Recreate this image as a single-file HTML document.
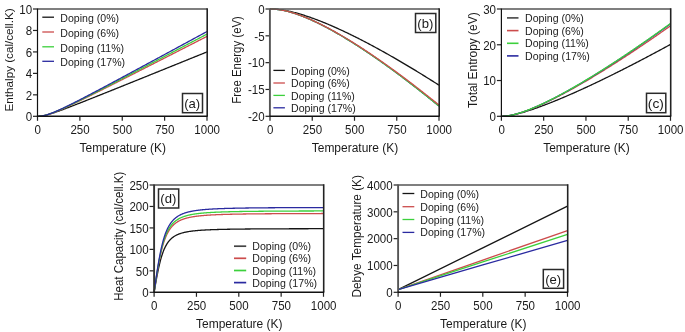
<!DOCTYPE html>
<html><head><meta charset="utf-8"><style>
html,body{margin:0;padding:0;background:#fff;}
body{width:685px;height:332px;overflow:hidden;}
svg{display:block;will-change:transform;}
</style></head><body>
<svg width="685" height="332" viewBox="0 0 685 332" font-family='"Liberation Sans", sans-serif' fill="#1a1a1a">
<rect width="685" height="332" fill="#fff"/>
<polyline points="37.5,116.3 38.35,116.29 39.2,116.25 40.04,116.18 40.89,116.09 41.74,115.98 42.59,115.85 43.43,115.69 44.28,115.52 45.13,115.33 45.98,115.13 46.82,114.92 47.67,114.69 48.52,114.45 49.37,114.2 50.21,113.95 51.06,113.68 51.91,113.41 52.76,113.14 53.6,112.86 54.45,112.57 55.3,112.28 56.14,111.99 56.99,111.69 57.84,111.39 58.69,111.09 59.53,110.78 60.38,110.47 61.23,110.16 62.08,109.85 62.92,109.53 63.77,109.22 64.62,108.9 65.47,108.58 66.31,108.26 67.16,107.94 68.01,107.62 68.86,107.29 69.7,106.97 70.55,106.64 71.4,106.32 72.25,105.99 73.09,105.66 73.94,105.33 74.79,105.01 75.64,104.68 76.48,104.35 77.33,104.01 78.18,103.68 79.03,103.35 79.88,103.02 80.72,102.69 81.57,102.35 82.42,102.02 83.27,101.69 84.11,101.35 84.96,101.02 85.81,100.68 86.66,100.35 87.5,100.01 88.35,99.68 89.2,99.34 90.05,99.01 90.89,98.67 91.74,98.33 92.59,98 93.44,97.66 94.28,97.32 95.13,96.98 95.98,96.65 96.83,96.31 97.67,95.97 98.52,95.63 99.37,95.3 100.22,94.96 101.06,94.62 101.91,94.28 102.76,93.94 103.61,93.6 104.45,93.26 105.3,92.92 106.15,92.59 107,92.25 107.84,91.91 108.69,91.57 109.54,91.23 110.39,90.89 111.23,90.55 112.08,90.21 112.93,89.87 113.78,89.53 114.62,89.19 115.47,88.85 116.32,88.51 117.17,88.17 118.01,87.83 118.86,87.49 119.71,87.15 120.56,86.81 121.4,86.47 122.25,86.13 123.1,85.79 123.94,85.44 124.79,85.1 125.64,84.76 126.49,84.42 127.33,84.08 128.18,83.74 129.03,83.4 129.88,83.06 130.72,82.72 131.57,82.38 132.42,82.03 133.27,81.69 134.12,81.35 134.96,81.01 135.81,80.67 136.66,80.33 137.5,79.99 138.35,79.65 139.2,79.3 140.05,78.96 140.89,78.62 141.74,78.28 142.59,77.94 143.44,77.6 144.28,77.25 145.13,76.91 145.98,76.57 146.83,76.23 147.68,75.89 148.52,75.55 149.37,75.2 150.22,74.86 151.06,74.52 151.91,74.18 152.76,73.84 153.61,73.49 154.45,73.15 155.3,72.81 156.15,72.47 157,72.13 157.84,71.78 158.69,71.44 159.54,71.1 160.39,70.76 161.24,70.42 162.08,70.07 162.93,69.73 163.78,69.39 164.62,69.05 165.47,68.7 166.32,68.36 167.17,68.02 168.01,67.68 168.86,67.34 169.71,66.99 170.56,66.65 171.41,66.31 172.25,65.97 173.1,65.62 173.95,65.28 174.79,64.94 175.64,64.6 176.49,64.25 177.34,63.91 178.19,63.57 179.03,63.23 179.88,62.88 180.73,62.54 181.57,62.2 182.42,61.86 183.27,61.51 184.12,61.17 184.97,60.83 185.81,60.49 186.66,60.14 187.51,59.8 188.35,59.46 189.2,59.12 190.05,58.77 190.9,58.43 191.75,58.09 192.59,57.75 193.44,57.4 194.29,57.06 195.13,56.72 195.98,56.38 196.83,56.03 197.68,55.69 198.53,55.35 199.37,55 200.22,54.66 201.07,54.32 201.91,53.98 202.76,53.63 203.61,53.29 204.46,52.95 205.31,52.61 206.15,52.26 207,51.92" fill="none" stroke="#151515" stroke-width="1.3" stroke-linejoin="round"/>
<polyline points="37.5,116.3 38.35,116.29 39.2,116.25 40.04,116.19 40.89,116.1 41.74,115.99 42.59,115.85 43.43,115.7 44.28,115.52 45.13,115.33 45.98,115.12 46.82,114.89 47.67,114.64 48.52,114.39 49.37,114.11 50.21,113.83 51.06,113.54 51.91,113.24 52.76,112.92 53.6,112.6 54.45,112.28 55.3,111.94 56.14,111.6 56.99,111.25 57.84,110.9 58.69,110.54 59.53,110.18 60.38,109.81 61.23,109.44 62.08,109.07 62.92,108.69 63.77,108.31 64.62,107.93 65.47,107.55 66.31,107.16 67.16,106.77 68.01,106.37 68.86,105.98 69.7,105.58 70.55,105.19 71.4,104.79 72.25,104.38 73.09,103.98 73.94,103.58 74.79,103.17 75.64,102.77 76.48,102.36 77.33,101.95 78.18,101.54 79.03,101.13 79.88,100.72 80.72,100.31 81.57,99.89 82.42,99.48 83.27,99.06 84.11,98.65 84.96,98.23 85.81,97.82 86.66,97.4 87.5,96.98 88.35,96.56 89.2,96.14 90.05,95.72 90.89,95.3 91.74,94.88 92.59,94.46 93.44,94.04 94.28,93.62 95.13,93.2 95.98,92.78 96.83,92.35 97.67,91.93 98.52,91.51 99.37,91.08 100.22,90.66 101.06,90.24 101.91,89.81 102.76,89.39 103.61,88.96 104.45,88.54 105.3,88.11 106.15,87.69 107,87.26 107.84,86.83 108.69,86.41 109.54,85.98 110.39,85.55 111.23,85.13 112.08,84.7 112.93,84.27 113.78,83.84 114.62,83.42 115.47,82.99 116.32,82.56 117.17,82.13 118.01,81.7 118.86,81.28 119.71,80.85 120.56,80.42 121.4,79.99 122.25,79.56 123.1,79.13 123.94,78.7 124.79,78.27 125.64,77.85 126.49,77.42 127.33,76.99 128.18,76.56 129.03,76.13 129.88,75.7 130.72,75.27 131.57,74.84 132.42,74.41 133.27,73.98 134.12,73.55 134.96,73.12 135.81,72.69 136.66,72.25 137.5,71.82 138.35,71.39 139.2,70.96 140.05,70.53 140.89,70.1 141.74,69.67 142.59,69.24 143.44,68.81 144.28,68.38 145.13,67.95 145.98,67.51 146.83,67.08 147.68,66.65 148.52,66.22 149.37,65.79 150.22,65.36 151.06,64.93 151.91,64.49 152.76,64.06 153.61,63.63 154.45,63.2 155.3,62.77 156.15,62.33 157,61.9 157.84,61.47 158.69,61.04 159.54,60.61 160.39,60.17 161.24,59.74 162.08,59.31 162.93,58.88 163.78,58.45 164.62,58.01 165.47,57.58 166.32,57.15 167.17,56.72 168.01,56.28 168.86,55.85 169.71,55.42 170.56,54.99 171.41,54.55 172.25,54.12 173.1,53.69 173.95,53.26 174.79,52.82 175.64,52.39 176.49,51.96 177.34,51.52 178.19,51.09 179.03,50.66 179.88,50.23 180.73,49.79 181.57,49.36 182.42,48.93 183.27,48.49 184.12,48.06 184.97,47.63 185.81,47.19 186.66,46.76 187.51,46.33 188.35,45.9 189.2,45.46 190.05,45.03 190.9,44.6 191.75,44.16 192.59,43.73 193.44,43.3 194.29,42.86 195.13,42.43 195.98,42 196.83,41.56 197.68,41.13 198.53,40.7 199.37,40.26 200.22,39.83 201.07,39.4 201.91,38.96 202.76,38.53 203.61,38.1 204.46,37.66 205.31,37.23 206.15,36.8 207,36.36" fill="none" stroke="#cc4c4c" stroke-width="1.3" stroke-linejoin="round"/>
<polyline points="37.5,116.3 38.35,116.29 39.2,116.25 40.04,116.18 40.89,116.09 41.74,115.98 42.59,115.84 43.43,115.68 44.28,115.5 45.13,115.3 45.98,115.08 46.82,114.85 47.67,114.6 48.52,114.33 49.37,114.05 50.21,113.76 51.06,113.46 51.91,113.15 52.76,112.83 53.6,112.5 54.45,112.16 55.3,111.82 56.14,111.47 56.99,111.11 57.84,110.75 58.69,110.38 59.53,110.01 60.38,109.63 61.23,109.25 62.08,108.87 62.92,108.48 63.77,108.09 64.62,107.69 65.47,107.3 66.31,106.9 67.16,106.5 68.01,106.09 68.86,105.69 69.7,105.28 70.55,104.87 71.4,104.46 72.25,104.05 73.09,103.63 73.94,103.22 74.79,102.8 75.64,102.38 76.48,101.97 77.33,101.55 78.18,101.12 79.03,100.7 79.88,100.28 80.72,99.86 81.57,99.43 82.42,99 83.27,98.58 84.11,98.15 84.96,97.72 85.81,97.3 86.66,96.87 87.5,96.44 88.35,96.01 89.2,95.58 90.05,95.14 90.89,94.71 91.74,94.28 92.59,93.85 93.44,93.42 94.28,92.98 95.13,92.55 95.98,92.11 96.83,91.68 97.67,91.24 98.52,90.81 99.37,90.37 100.22,89.94 101.06,89.5 101.91,89.06 102.76,88.63 103.61,88.19 104.45,87.75 105.3,87.32 106.15,86.88 107,86.44 107.84,86 108.69,85.56 109.54,85.13 110.39,84.69 111.23,84.25 112.08,83.81 112.93,83.37 113.78,82.93 114.62,82.49 115.47,82.05 116.32,81.61 117.17,81.17 118.01,80.73 118.86,80.29 119.71,79.85 120.56,79.41 121.4,78.97 122.25,78.53 123.1,78.09 123.94,77.64 124.79,77.2 125.64,76.76 126.49,76.32 127.33,75.88 128.18,75.44 129.03,74.99 129.88,74.55 130.72,74.11 131.57,73.67 132.42,73.23 133.27,72.78 134.12,72.34 134.96,71.9 135.81,71.46 136.66,71.01 137.5,70.57 138.35,70.13 139.2,69.68 140.05,69.24 140.89,68.8 141.74,68.36 142.59,67.91 143.44,67.47 144.28,67.03 145.13,66.58 145.98,66.14 146.83,65.7 147.68,65.25 148.52,64.81 149.37,64.36 150.22,63.92 151.06,63.48 151.91,63.03 152.76,62.59 153.61,62.15 154.45,61.7 155.3,61.26 156.15,60.81 157,60.37 157.84,59.92 158.69,59.48 159.54,59.04 160.39,58.59 161.24,58.15 162.08,57.7 162.93,57.26 163.78,56.81 164.62,56.37 165.47,55.93 166.32,55.48 167.17,55.04 168.01,54.59 168.86,54.15 169.71,53.7 170.56,53.26 171.41,52.81 172.25,52.37 173.1,51.92 173.95,51.48 174.79,51.03 175.64,50.59 176.49,50.14 177.34,49.7 178.19,49.25 179.03,48.81 179.88,48.36 180.73,47.92 181.57,47.47 182.42,47.03 183.27,46.58 184.12,46.14 184.97,45.69 185.81,45.25 186.66,44.8 187.51,44.36 188.35,43.91 189.2,43.47 190.05,43.02 190.9,42.57 191.75,42.13 192.59,41.68 193.44,41.24 194.29,40.79 195.13,40.35 195.98,39.9 196.83,39.46 197.68,39.01 198.53,38.57 199.37,38.12 200.22,37.67 201.07,37.23 201.91,36.78 202.76,36.34 203.61,35.89 204.46,35.45 205.31,35 206.15,34.55 207,34.11" fill="none" stroke="#3cd03c" stroke-width="1.3" stroke-linejoin="round"/>
<polyline points="37.5,116.3 38.35,116.29 39.2,116.25 40.04,116.18 40.89,116.09 41.74,115.97 42.59,115.83 43.43,115.66 44.28,115.47 45.13,115.27 45.98,115.04 46.82,114.8 47.67,114.54 48.52,114.27 49.37,113.98 50.21,113.68 51.06,113.37 51.91,113.05 52.76,112.72 53.6,112.38 54.45,112.03 55.3,111.68 56.14,111.32 56.99,110.95 57.84,110.57 58.69,110.19 59.53,109.81 60.38,109.42 61.23,109.03 62.08,108.63 62.92,108.23 63.77,107.83 64.62,107.43 65.47,107.02 66.31,106.6 67.16,106.19 68.01,105.77 68.86,105.36 69.7,104.94 70.55,104.51 71.4,104.09 72.25,103.67 73.09,103.24 73.94,102.81 74.79,102.38 75.64,101.95 76.48,101.52 77.33,101.08 78.18,100.65 79.03,100.21 79.88,99.78 80.72,99.34 81.57,98.9 82.42,98.46 83.27,98.02 84.11,97.58 84.96,97.14 85.81,96.7 86.66,96.26 87.5,95.81 88.35,95.37 89.2,94.93 90.05,94.48 90.89,94.04 91.74,93.59 92.59,93.14 93.44,92.7 94.28,92.25 95.13,91.8 95.98,91.36 96.83,90.91 97.67,90.46 98.52,90.01 99.37,89.56 100.22,89.11 101.06,88.66 101.91,88.21 102.76,87.76 103.61,87.31 104.45,86.86 105.3,86.41 106.15,85.96 107,85.51 107.84,85.05 108.69,84.6 109.54,84.15 110.39,83.7 111.23,83.24 112.08,82.79 112.93,82.34 113.78,81.88 114.62,81.43 115.47,80.98 116.32,80.52 117.17,80.07 118.01,79.62 118.86,79.16 119.71,78.71 120.56,78.25 121.4,77.8 122.25,77.34 123.1,76.89 123.94,76.43 124.79,75.98 125.64,75.52 126.49,75.07 127.33,74.61 128.18,74.16 129.03,73.7 129.88,73.24 130.72,72.79 131.57,72.33 132.42,71.88 133.27,71.42 134.12,70.96 134.96,70.51 135.81,70.05 136.66,69.59 137.5,69.14 138.35,68.68 139.2,68.22 140.05,67.77 140.89,67.31 141.74,66.85 142.59,66.4 143.44,65.94 144.28,65.48 145.13,65.02 145.98,64.57 146.83,64.11 147.68,63.65 148.52,63.19 149.37,62.74 150.22,62.28 151.06,61.82 151.91,61.36 152.76,60.91 153.61,60.45 154.45,59.99 155.3,59.53 156.15,59.07 157,58.62 157.84,58.16 158.69,57.7 159.54,57.24 160.39,56.78 161.24,56.33 162.08,55.87 162.93,55.41 163.78,54.95 164.62,54.49 165.47,54.03 166.32,53.58 167.17,53.12 168.01,52.66 168.86,52.2 169.71,51.74 170.56,51.28 171.41,50.82 172.25,50.36 173.1,49.91 173.95,49.45 174.79,48.99 175.64,48.53 176.49,48.07 177.34,47.61 178.19,47.15 179.03,46.69 179.88,46.23 180.73,45.78 181.57,45.32 182.42,44.86 183.27,44.4 184.12,43.94 184.97,43.48 185.81,43.02 186.66,42.56 187.51,42.1 188.35,41.64 189.2,41.18 190.05,40.72 190.9,40.26 191.75,39.81 192.59,39.35 193.44,38.89 194.29,38.43 195.13,37.97 195.98,37.51 196.83,37.05 197.68,36.59 198.53,36.13 199.37,35.67 200.22,35.21 201.07,34.75 201.91,34.29 202.76,33.83 203.61,33.37 204.46,32.91 205.31,32.45 206.15,31.99 207,31.53" fill="none" stroke="#2a2aa0" stroke-width="1.3" stroke-linejoin="round"/>
<line x1="33" y1="116.3" x2="37.5" y2="116.3" stroke="#222" stroke-width="1.2"/>
<text transform="translate(32.1,121.1) scale(0.94,1)" font-size="12.3" text-anchor="end">0</text>
<line x1="33" y1="94.84" x2="37.5" y2="94.84" stroke="#222" stroke-width="1.2"/>
<text transform="translate(32.1,99.64) scale(0.94,1)" font-size="12.3" text-anchor="end">2</text>
<line x1="33" y1="73.38" x2="37.5" y2="73.38" stroke="#222" stroke-width="1.2"/>
<text transform="translate(32.1,78.18) scale(0.94,1)" font-size="12.3" text-anchor="end">4</text>
<line x1="33" y1="51.92" x2="37.5" y2="51.92" stroke="#222" stroke-width="1.2"/>
<text transform="translate(32.1,56.72) scale(0.94,1)" font-size="12.3" text-anchor="end">6</text>
<line x1="33" y1="30.46" x2="37.5" y2="30.46" stroke="#222" stroke-width="1.2"/>
<text transform="translate(32.1,35.26) scale(0.94,1)" font-size="12.3" text-anchor="end">8</text>
<line x1="33" y1="9" x2="37.5" y2="9" stroke="#222" stroke-width="1.2"/>
<text transform="translate(32.1,13.8) scale(0.94,1)" font-size="12.3" text-anchor="end">10</text>
<line x1="37.5" y1="116.3" x2="37.5" y2="120.8" stroke="#222" stroke-width="1.2"/>
<text transform="translate(37.7,133.7) scale(0.94,1)" font-size="12.3" text-anchor="middle">0</text>
<line x1="79.88" y1="116.3" x2="79.88" y2="120.8" stroke="#222" stroke-width="1.2"/>
<text transform="translate(80.08,133.7) scale(0.94,1)" font-size="12.3" text-anchor="middle">250</text>
<line x1="122.25" y1="116.3" x2="122.25" y2="120.8" stroke="#222" stroke-width="1.2"/>
<text transform="translate(122.45,133.7) scale(0.94,1)" font-size="12.3" text-anchor="middle">500</text>
<line x1="164.62" y1="116.3" x2="164.62" y2="120.8" stroke="#222" stroke-width="1.2"/>
<text transform="translate(164.82,133.7) scale(0.94,1)" font-size="12.3" text-anchor="middle">750</text>
<line x1="207" y1="116.3" x2="207" y2="120.8" stroke="#222" stroke-width="1.2"/>
<text transform="translate(207.2,133.7) scale(0.94,1)" font-size="12.3" text-anchor="middle">1000</text>
<line x1="37.5" y1="9" x2="207" y2="9" stroke="#555" stroke-width="1.6"/>
<line x1="207.2" y1="8.2" x2="207.2" y2="116.3" stroke="#222" stroke-width="1.6"/>
<line x1="37.5" y1="8.5" x2="37.5" y2="116.9" stroke="#111" stroke-width="1.2"/>
<line x1="36.9" y1="116.3" x2="207.7" y2="116.3" stroke="#111" stroke-width="1.4"/>
<text x="122.75" y="151.9" font-size="12" text-anchor="middle" textLength="86.5" lengthAdjust="spacingAndGlyphs">Temperature (K)</text>
<text transform="translate(13.2,59.9) rotate(-90)" font-size="11.2" text-anchor="middle" textLength="103" lengthAdjust="spacingAndGlyphs">Enthalpy (cal/cell.K)</text>
<line x1="42.3" y1="17.2" x2="54" y2="17.2" stroke="#151515" stroke-width="1.3"/>
<text x="60.3" y="22" font-size="10.5" textLength="58.8" lengthAdjust="spacingAndGlyphs">Doping (0%)</text>
<line x1="42.3" y1="32" x2="54" y2="32" stroke="#cc4c4c" stroke-width="1.3"/>
<text x="60.3" y="36.8" font-size="10.5" textLength="58.8" lengthAdjust="spacingAndGlyphs">Doping (6%)</text>
<line x1="42.3" y1="46.8" x2="54" y2="46.8" stroke="#3cd03c" stroke-width="1.3"/>
<text x="60.3" y="51.6" font-size="10.5" textLength="63.8" lengthAdjust="spacingAndGlyphs">Doping (11%)</text>
<line x1="42.3" y1="61.3" x2="54" y2="61.3" stroke="#2a2aa0" stroke-width="1.3"/>
<text x="60.3" y="66.1" font-size="10.5" textLength="64.8" lengthAdjust="spacingAndGlyphs">Doping (17%)</text>
<rect x="182.5" y="93.5" width="20" height="19.2" fill="#fff" stroke="#2a2a2a" stroke-width="1.5"/>
<text x="192.2" y="107.7" font-size="12.8" text-anchor="middle" textLength="16" lengthAdjust="spacingAndGlyphs">(a)</text>
<polyline points="270,9 270.85,9 271.69,9.02 272.54,9.04 273.38,9.08 274.23,9.12 275.07,9.17 275.92,9.23 276.76,9.3 277.61,9.38 278.45,9.47 279.3,9.57 280.14,9.67 280.99,9.79 281.83,9.91 282.68,10.03 283.52,10.17 284.37,10.31 285.21,10.46 286.06,10.62 286.9,10.78 287.75,10.95 288.59,11.13 289.44,11.31 290.28,11.5 291.12,11.69 291.97,11.89 292.81,12.1 293.66,12.31 294.5,12.53 295.35,12.75 296.19,12.97 297.04,13.2 297.88,13.44 298.73,13.68 299.57,13.92 300.42,14.17 301.26,14.43 302.11,14.68 302.95,14.94 303.8,15.21 304.64,15.48 305.49,15.75 306.33,16.03 307.18,16.31 308.02,16.6 308.87,16.89 309.72,17.18 310.56,17.47 311.4,17.77 312.25,18.07 313.1,18.38 313.94,18.69 314.78,19 315.63,19.31 316.48,19.63 317.32,19.95 318.17,20.28 319.01,20.6 319.86,20.93 320.7,21.27 321.55,21.6 322.39,21.94 323.24,22.28 324.08,22.62 324.93,22.97 325.77,23.32 326.62,23.67 327.46,24.02 328.31,24.38 329.15,24.74 330,25.1 330.84,25.46 331.69,25.83 332.53,26.2 333.38,26.57 334.22,26.94 335.06,27.31 335.91,27.69 336.75,28.07 337.6,28.45 338.44,28.83 339.29,29.22 340.13,29.61 340.98,30 341.82,30.39 342.67,30.78 343.51,31.18 344.36,31.57 345.2,31.97 346.05,32.38 346.89,32.78 347.74,33.18 348.58,33.59 349.43,34 350.27,34.41 351.12,34.82 351.97,35.24 352.81,35.65 353.65,36.07 354.5,36.49 355.35,36.91 356.19,37.34 357.03,37.76 357.88,38.19 358.73,38.61 359.57,39.04 360.42,39.47 361.26,39.91 362.11,40.34 362.95,40.78 363.8,41.22 364.64,41.65 365.49,42.1 366.33,42.54 367.18,42.98 368.02,43.43 368.87,43.87 369.71,44.32 370.56,44.77 371.4,45.22 372.25,45.67 373.09,46.13 373.94,46.58 374.78,47.04 375.62,47.5 376.47,47.96 377.31,48.42 378.16,48.88 379,49.34 379.85,49.81 380.69,50.27 381.54,50.74 382.38,51.21 383.23,51.68 384.07,52.15 384.92,52.62 385.76,53.1 386.61,53.57 387.45,54.05 388.3,54.53 389.14,55.01 389.99,55.49 390.83,55.97 391.68,56.45 392.52,56.93 393.37,57.42 394.22,57.91 395.06,58.39 395.9,58.88 396.75,59.37 397.6,59.86 398.44,60.35 399.28,60.85 400.13,61.34 400.98,61.84 401.82,62.33 402.66,62.83 403.51,63.33 404.36,63.83 405.2,64.33 406.04,64.83 406.89,65.33 407.74,65.84 408.58,66.34 409.43,66.85 410.27,67.36 411.12,67.86 411.96,68.37 412.81,68.88 413.65,69.39 414.5,69.91 415.34,70.42 416.19,70.93 417.03,71.45 417.88,71.97 418.72,72.48 419.56,73 420.41,73.52 421.25,74.04 422.1,74.56 422.94,75.09 423.79,75.61 424.63,76.13 425.48,76.66 426.32,77.18 427.17,77.71 428.01,78.24 428.86,78.77 429.71,79.3 430.55,79.83 431.39,80.36 432.24,80.89 433.09,81.42 433.93,81.96 434.77,82.49 435.62,83.03 436.47,83.57 437.31,84.1 438.15,84.64 439,85.18" fill="none" stroke="#151515" stroke-width="1.3" stroke-linejoin="round"/>
<polyline points="270,9 270.85,9.01 271.69,9.02 272.54,9.05 273.38,9.1 274.23,9.15 275.07,9.21 275.92,9.29 276.76,9.38 277.61,9.48 278.45,9.58 279.3,9.7 280.14,9.83 280.99,9.97 281.83,10.12 282.68,10.28 283.52,10.45 284.37,10.63 285.21,10.82 286.06,11.01 286.9,11.22 287.75,11.43 288.59,11.65 289.44,11.88 290.28,12.12 291.12,12.36 291.97,12.61 292.81,12.87 293.66,13.13 294.5,13.4 295.35,13.68 296.19,13.96 297.04,14.25 297.88,14.55 298.73,14.85 299.57,15.16 300.42,15.47 301.26,15.79 302.11,16.12 302.95,16.45 303.8,16.78 304.64,17.13 305.49,17.47 306.33,17.82 307.18,18.18 308.02,18.54 308.87,18.9 309.72,19.27 310.56,19.64 311.4,20.02 312.25,20.41 313.1,20.79 313.94,21.18 314.78,21.58 315.63,21.98 316.48,22.38 317.32,22.79 318.17,23.2 319.01,23.61 319.86,24.03 320.7,24.45 321.55,24.88 322.39,25.31 323.24,25.74 324.08,26.17 324.93,26.61 325.77,27.06 326.62,27.5 327.46,27.95 328.31,28.4 329.15,28.86 330,29.32 330.84,29.78 331.69,30.25 332.53,30.71 333.38,31.19 334.22,31.66 335.06,32.14 335.91,32.62 336.75,33.1 337.6,33.58 338.44,34.07 339.29,34.56 340.13,35.06 340.98,35.55 341.82,36.05 342.67,36.55 343.51,37.06 344.36,37.56 345.2,38.07 346.05,38.58 346.89,39.1 347.74,39.61 348.58,40.13 349.43,40.65 350.27,41.18 351.12,41.7 351.97,42.23 352.81,42.76 353.65,43.29 354.5,43.83 355.35,44.37 356.19,44.9 357.03,45.45 357.88,45.99 358.73,46.54 359.57,47.08 360.42,47.63 361.26,48.19 362.11,48.74 362.95,49.3 363.8,49.86 364.64,50.42 365.49,50.98 366.33,51.54 367.18,52.11 368.02,52.68 368.87,53.25 369.71,53.82 370.56,54.39 371.4,54.97 372.25,55.55 373.09,56.13 373.94,56.71 374.78,57.29 375.62,57.88 376.47,58.46 377.31,59.05 378.16,59.64 379,60.24 379.85,60.83 380.69,61.43 381.54,62.02 382.38,62.62 383.23,63.22 384.07,63.83 384.92,64.43 385.76,65.04 386.61,65.64 387.45,66.25 388.3,66.86 389.14,67.48 389.99,68.09 390.83,68.7 391.68,69.32 392.52,69.94 393.37,70.56 394.22,71.18 395.06,71.81 395.9,72.43 396.75,73.06 397.6,73.68 398.44,74.31 399.28,74.94 400.13,75.58 400.98,76.21 401.82,76.85 402.66,77.48 403.51,78.12 404.36,78.76 405.2,79.4 406.04,80.04 406.89,80.69 407.74,81.33 408.58,81.98 409.43,82.63 410.27,83.27 411.12,83.93 411.96,84.58 412.81,85.23 413.65,85.88 414.5,86.54 415.34,87.2 416.19,87.86 417.03,88.52 417.88,89.18 418.72,89.84 419.56,90.5 420.41,91.17 421.25,91.83 422.1,92.5 422.94,93.17 423.79,93.84 424.63,94.51 425.48,95.18 426.32,95.86 427.17,96.53 428.01,97.21 428.86,97.89 429.71,98.57 430.55,99.24 431.39,99.93 432.24,100.61 433.09,101.29 433.93,101.98 434.77,102.66 435.62,103.35 436.47,104.04 437.31,104.72 438.15,105.42 439,106.11" fill="none" stroke="#2a2aa0" stroke-width="1.3" stroke-linejoin="round"/>
<polyline points="270,9 270.85,9.01 271.69,9.02 272.54,9.05 273.38,9.1 274.23,9.15 275.07,9.21 275.92,9.29 276.76,9.38 277.61,9.48 278.45,9.58 279.3,9.7 280.14,9.83 280.99,9.97 281.83,10.12 282.68,10.28 283.52,10.45 284.37,10.63 285.21,10.82 286.06,11.01 286.9,11.22 287.75,11.43 288.59,11.65 289.44,11.88 290.28,12.12 291.12,12.36 291.97,12.61 292.81,12.87 293.66,13.13 294.5,13.4 295.35,13.68 296.19,13.96 297.04,14.25 297.88,14.55 298.73,14.85 299.57,15.16 300.42,15.47 301.26,15.79 302.11,16.12 302.95,16.45 303.8,16.78 304.64,17.13 305.49,17.47 306.33,17.82 307.18,18.18 308.02,18.54 308.87,18.9 309.72,19.27 310.56,19.64 311.4,20.02 312.25,20.41 313.1,20.79 313.94,21.18 314.78,21.58 315.63,21.98 316.48,22.38 317.32,22.79 318.17,23.2 319.01,23.61 319.86,24.03 320.7,24.45 321.55,24.88 322.39,25.31 323.24,25.74 324.08,26.17 324.93,26.61 325.77,27.06 326.62,27.5 327.46,27.95 328.31,28.4 329.15,28.86 330,29.32 330.84,29.78 331.69,30.25 332.53,30.71 333.38,31.19 334.22,31.66 335.06,32.14 335.91,32.62 336.75,33.1 337.6,33.58 338.44,34.07 339.29,34.56 340.13,35.06 340.98,35.55 341.82,36.05 342.67,36.55 343.51,37.06 344.36,37.56 345.2,38.07 346.05,38.58 346.89,39.1 347.74,39.61 348.58,40.13 349.43,40.65 350.27,41.18 351.12,41.7 351.97,42.23 352.81,42.76 353.65,43.29 354.5,43.83 355.35,44.37 356.19,44.9 357.03,45.45 357.88,45.99 358.73,46.54 359.57,47.08 360.42,47.63 361.26,48.19 362.11,48.74 362.95,49.3 363.8,49.86 364.64,50.42 365.49,50.98 366.33,51.54 367.18,52.11 368.02,52.68 368.87,53.25 369.71,53.82 370.56,54.39 371.4,54.97 372.25,55.55 373.09,56.13 373.94,56.71 374.78,57.29 375.62,57.88 376.47,58.46 377.31,59.05 378.16,59.64 379,60.24 379.85,60.83 380.69,61.43 381.54,62.02 382.38,62.62 383.23,63.22 384.07,63.83 384.92,64.43 385.76,65.04 386.61,65.64 387.45,66.25 388.3,66.86 389.14,67.48 389.99,68.09 390.83,68.7 391.68,69.32 392.52,69.94 393.37,70.56 394.22,71.18 395.06,71.81 395.9,72.43 396.75,73.06 397.6,73.68 398.44,74.31 399.28,74.94 400.13,75.58 400.98,76.21 401.82,76.85 402.66,77.48 403.51,78.12 404.36,78.76 405.2,79.4 406.04,80.04 406.89,80.69 407.74,81.33 408.58,81.98 409.43,82.63 410.27,83.27 411.12,83.93 411.96,84.58 412.81,85.23 413.65,85.88 414.5,86.54 415.34,87.2 416.19,87.86 417.03,88.52 417.88,89.18 418.72,89.84 419.56,90.5 420.41,91.17 421.25,91.83 422.1,92.5 422.94,93.17 423.79,93.84 424.63,94.51 425.48,95.18 426.32,95.86 427.17,96.53 428.01,97.21 428.86,97.89 429.71,98.57 430.55,99.24 431.39,99.93 432.24,100.61 433.09,101.29 433.93,101.98 434.77,102.66 435.62,103.35 436.47,104.04 437.31,104.72 438.15,105.42 439,106.11" fill="none" stroke="#3cd03c" stroke-width="1.3" stroke-linejoin="round"/>
<polyline points="270,9 270.85,9.01 271.69,9.02 272.54,9.05 273.38,9.09 274.23,9.15 275.07,9.21 275.92,9.29 276.76,9.37 277.61,9.47 278.45,9.58 279.3,9.7 280.14,9.82 280.99,9.96 281.83,10.11 282.68,10.27 283.52,10.44 284.37,10.61 285.21,10.8 286.06,10.99 286.9,11.19 287.75,11.4 288.59,11.62 289.44,11.85 290.28,12.08 291.12,12.32 291.97,12.57 292.81,12.82 293.66,13.09 294.5,13.35 295.35,13.63 296.19,13.91 297.04,14.2 297.88,14.49 298.73,14.79 299.57,15.09 300.42,15.4 301.26,15.72 302.11,16.04 302.95,16.37 303.8,16.7 304.64,17.04 305.49,17.38 306.33,17.72 307.18,18.08 308.02,18.43 308.87,18.79 309.72,19.16 310.56,19.53 311.4,19.9 312.25,20.28 313.1,20.66 313.94,21.05 314.78,21.44 315.63,21.83 316.48,22.23 317.32,22.63 318.17,23.04 319.01,23.45 319.86,23.86 320.7,24.28 321.55,24.7 322.39,25.13 323.24,25.55 324.08,25.99 324.93,26.42 325.77,26.86 326.62,27.3 327.46,27.74 328.31,28.19 329.15,28.64 330,29.09 330.84,29.55 331.69,30.01 332.53,30.47 333.38,30.94 334.22,31.41 335.06,31.88 335.91,32.35 336.75,32.83 337.6,33.31 338.44,33.79 339.29,34.28 340.13,34.77 340.98,35.26 341.82,35.75 342.67,36.25 343.51,36.75 344.36,37.25 345.2,37.75 346.05,38.26 346.89,38.76 347.74,39.27 348.58,39.79 349.43,40.3 350.27,40.82 351.12,41.34 351.97,41.86 352.81,42.39 353.65,42.91 354.5,43.44 355.35,43.97 356.19,44.51 357.03,45.04 357.88,45.58 358.73,46.12 359.57,46.66 360.42,47.21 361.26,47.75 362.11,48.3 362.95,48.85 363.8,49.4 364.64,49.96 365.49,50.51 366.33,51.07 367.18,51.63 368.02,52.2 368.87,52.76 369.71,53.33 370.56,53.89 371.4,54.46 372.25,55.03 373.09,55.61 373.94,56.18 374.78,56.76 375.62,57.34 376.47,57.92 377.31,58.5 378.16,59.08 379,59.67 379.85,60.26 380.69,60.85 381.54,61.44 382.38,62.03 383.23,62.62 384.07,63.22 384.92,63.82 385.76,64.42 386.61,65.02 387.45,65.62 388.3,66.22 389.14,66.83 389.99,67.44 390.83,68.04 391.68,68.66 392.52,69.27 393.37,69.88 394.22,70.5 395.06,71.11 395.9,71.73 396.75,72.35 397.6,72.97 398.44,73.59 399.28,74.22 400.13,74.84 400.98,75.47 401.82,76.1 402.66,76.73 403.51,77.36 404.36,77.99 405.2,78.62 406.04,79.26 406.89,79.89 407.74,80.53 408.58,81.17 409.43,81.81 410.27,82.45 411.12,83.1 411.96,83.74 412.81,84.39 413.65,85.04 414.5,85.68 415.34,86.33 416.19,86.99 417.03,87.64 417.88,88.29 418.72,88.95 419.56,89.6 420.41,90.26 421.25,90.92 422.1,91.58 422.94,92.24 423.79,92.9 424.63,93.57 425.48,94.23 426.32,94.9 427.17,95.57 428.01,96.23 428.86,96.9 429.71,97.58 430.55,98.25 431.39,98.92 432.24,99.6 433.09,100.27 433.93,100.95 434.77,101.63 435.62,102.31 436.47,102.99 437.31,103.67 438.15,104.35 439,105.03" fill="none" stroke="#cc4c4c" stroke-width="1.3" stroke-linejoin="round"/>
<line x1="265.5" y1="9" x2="269.9" y2="9" stroke="#222" stroke-width="1.2"/>
<text transform="translate(264.6,13.8) scale(0.94,1)" font-size="12.3" text-anchor="end">0</text>
<line x1="265.5" y1="35.83" x2="269.9" y2="35.83" stroke="#222" stroke-width="1.2"/>
<text transform="translate(264.6,40.62) scale(0.94,1)" font-size="12.3" text-anchor="end">-5</text>
<line x1="265.5" y1="62.65" x2="269.9" y2="62.65" stroke="#222" stroke-width="1.2"/>
<text transform="translate(264.6,67.45) scale(0.94,1)" font-size="12.3" text-anchor="end">-10</text>
<line x1="265.5" y1="89.47" x2="269.9" y2="89.47" stroke="#222" stroke-width="1.2"/>
<text transform="translate(264.6,94.27) scale(0.94,1)" font-size="12.3" text-anchor="end">-15</text>
<line x1="265.5" y1="116.3" x2="269.9" y2="116.3" stroke="#222" stroke-width="1.2"/>
<text transform="translate(264.6,121.1) scale(0.94,1)" font-size="12.3" text-anchor="end">-20</text>
<line x1="270" y1="116.3" x2="270" y2="120.8" stroke="#222" stroke-width="1.2"/>
<text transform="translate(270.2,133.7) scale(0.94,1)" font-size="12.3" text-anchor="middle">0</text>
<line x1="312.25" y1="116.3" x2="312.25" y2="120.8" stroke="#222" stroke-width="1.2"/>
<text transform="translate(312.45,133.7) scale(0.94,1)" font-size="12.3" text-anchor="middle">250</text>
<line x1="354.5" y1="116.3" x2="354.5" y2="120.8" stroke="#222" stroke-width="1.2"/>
<text transform="translate(354.7,133.7) scale(0.94,1)" font-size="12.3" text-anchor="middle">500</text>
<line x1="396.75" y1="116.3" x2="396.75" y2="120.8" stroke="#222" stroke-width="1.2"/>
<text transform="translate(396.95,133.7) scale(0.94,1)" font-size="12.3" text-anchor="middle">750</text>
<line x1="439" y1="116.3" x2="439" y2="120.8" stroke="#222" stroke-width="1.2"/>
<text transform="translate(439.2,133.7) scale(0.94,1)" font-size="12.3" text-anchor="middle">1000</text>
<line x1="270" y1="9" x2="439" y2="9" stroke="#555" stroke-width="1.6"/>
<line x1="439.2" y1="8.2" x2="439.2" y2="116.3" stroke="#222" stroke-width="1.6"/>
<line x1="269.9" y1="8.5" x2="269.9" y2="116.9" stroke="#555" stroke-width="1.9"/>
<line x1="269.4" y1="116.3" x2="439.7" y2="116.3" stroke="#111" stroke-width="1.4"/>
<text x="355" y="151.9" font-size="12" text-anchor="middle" textLength="86.5" lengthAdjust="spacingAndGlyphs">Temperature (K)</text>
<text transform="translate(241.1,59.9) rotate(-90)" font-size="12.3" text-anchor="middle" textLength="87.6" lengthAdjust="spacingAndGlyphs">Free Energy (eV)</text>
<line x1="273.4" y1="70.4" x2="284.9" y2="70.4" stroke="#151515" stroke-width="1.3"/>
<text x="291" y="74.8" font-size="10.5" textLength="58.8" lengthAdjust="spacingAndGlyphs">Doping (0%)</text>
<line x1="273.4" y1="83" x2="284.9" y2="83" stroke="#cc4c4c" stroke-width="1.3"/>
<text x="291" y="87.4" font-size="10.5" textLength="58.8" lengthAdjust="spacingAndGlyphs">Doping (6%)</text>
<line x1="273.4" y1="95.4" x2="284.9" y2="95.4" stroke="#3cd03c" stroke-width="1.3"/>
<text x="291" y="99.8" font-size="10.5" textLength="63.8" lengthAdjust="spacingAndGlyphs">Doping (11%)</text>
<line x1="273.4" y1="107.8" x2="284.9" y2="107.8" stroke="#2a2aa0" stroke-width="1.3"/>
<text x="291" y="112.2" font-size="10.5" textLength="64.8" lengthAdjust="spacingAndGlyphs">Doping (17%)</text>
<rect x="415.5" y="13.5" width="20.3" height="19" fill="#fff" stroke="#2a2a2a" stroke-width="1.5"/>
<text x="425.35" y="27.6" font-size="12.8" text-anchor="middle" textLength="16" lengthAdjust="spacingAndGlyphs">(b)</text>
<polyline points="501.4,116.3 502.25,116.29 503.09,116.27 503.94,116.22 504.78,116.17 505.63,116.09 506.47,116 507.32,115.9 508.16,115.79 509.01,115.66 509.85,115.52 510.7,115.37 511.55,115.22 512.39,115.05 513.24,114.87 514.08,114.69 514.93,114.5 515.77,114.3 516.62,114.1 517.46,113.89 518.31,113.67 519.16,113.45 520,113.22 520.85,112.99 521.69,112.75 522.54,112.51 523.38,112.26 524.23,112.01 525.07,111.76 525.92,111.5 526.76,111.24 527.61,110.97 528.46,110.7 529.3,110.43 530.15,110.15 530.99,109.87 531.84,109.59 532.68,109.31 533.53,109.02 534.37,108.73 535.22,108.43 536.07,108.14 536.91,107.84 537.76,107.54 538.6,107.23 539.45,106.93 540.29,106.62 541.14,106.31 541.98,106 542.83,105.68 543.67,105.36 544.52,105.04 545.37,104.72 546.21,104.4 547.06,104.07 547.9,103.75 548.75,103.42 549.59,103.09 550.44,102.75 551.28,102.42 552.13,102.08 552.98,101.74 553.82,101.4 554.67,101.06 555.51,100.72 556.36,100.37 557.2,100.03 558.05,99.68 558.89,99.33 559.74,98.98 560.59,98.62 561.43,98.27 562.28,97.91 563.12,97.56 563.97,97.2 564.81,96.84 565.66,96.48 566.5,96.11 567.35,95.75 568.19,95.38 569.04,95.02 569.89,94.65 570.73,94.28 571.58,93.91 572.42,93.54 573.27,93.16 574.11,92.79 574.96,92.42 575.8,92.04 576.65,91.66 577.5,91.28 578.34,90.9 579.19,90.52 580.03,90.14 580.88,89.75 581.72,89.37 582.57,88.98 583.41,88.6 584.26,88.21 585.1,87.82 585.95,87.43 586.8,87.04 587.64,86.65 588.49,86.25 589.33,85.86 590.18,85.47 591.02,85.07 591.87,84.67 592.71,84.27 593.56,83.88 594.4,83.48 595.25,83.08 596.1,82.67 596.94,82.27 597.79,81.87 598.63,81.46 599.48,81.06 600.32,80.65 601.17,80.24 602.01,79.84 602.86,79.43 603.71,79.02 604.55,78.61 605.4,78.2 606.24,77.78 607.09,77.37 607.93,76.96 608.78,76.54 609.62,76.13 610.47,75.71 611.32,75.29 612.16,74.88 613.01,74.46 613.85,74.04 614.7,73.62 615.54,73.2 616.39,72.77 617.23,72.35 618.08,71.93 618.92,71.51 619.77,71.08 620.62,70.65 621.46,70.23 622.31,69.8 623.15,69.37 624,68.95 624.84,68.52 625.69,68.09 626.53,67.66 627.38,67.23 628.23,66.79 629.07,66.36 629.92,65.93 630.76,65.49 631.61,65.06 632.45,64.62 633.3,64.19 634.14,63.75 634.99,63.31 635.83,62.88 636.68,62.44 637.53,62 638.37,61.56 639.22,61.12 640.06,60.68 640.91,60.24 641.75,59.79 642.6,59.35 643.44,58.91 644.29,58.46 645.13,58.02 645.98,57.57 646.83,57.13 647.67,56.68 648.52,56.23 649.36,55.79 650.21,55.34 651.05,54.89 651.9,54.44 652.74,53.99 653.59,53.54 654.44,53.09 655.28,52.63 656.13,52.18 656.97,51.73 657.82,51.28 658.66,50.82 659.51,50.37 660.35,49.91 661.2,49.46 662.05,49 662.89,48.54 663.74,48.09 664.58,47.63 665.43,47.17 666.27,46.71 667.12,46.25 667.96,45.79 668.81,45.33 669.65,44.87 670.5,44.41" fill="none" stroke="#151515" stroke-width="1.3" stroke-linejoin="round"/>
<polyline points="501.4,116.3 502.25,116.29 503.09,116.27 503.94,116.23 504.78,116.17 505.63,116.1 506.47,116.01 507.32,115.91 508.16,115.8 509.01,115.67 509.85,115.53 510.7,115.37 511.55,115.21 512.39,115.03 513.24,114.84 514.08,114.64 514.93,114.43 515.77,114.21 516.62,113.99 517.46,113.75 518.31,113.51 519.16,113.26 520,113 520.85,112.73 521.69,112.46 522.54,112.18 523.38,111.89 524.23,111.6 525.07,111.3 525.92,110.99 526.76,110.68 527.61,110.37 528.46,110.05 529.3,109.72 530.15,109.4 530.99,109.06 531.84,108.72 532.68,108.38 533.53,108.03 534.37,107.68 535.22,107.33 536.07,106.97 536.91,106.6 537.76,106.24 538.6,105.87 539.45,105.49 540.29,105.11 541.14,104.73 541.98,104.35 542.83,103.96 543.67,103.57 544.52,103.18 545.37,102.78 546.21,102.38 547.06,101.98 547.9,101.58 548.75,101.17 549.59,100.76 550.44,100.35 551.28,99.93 552.13,99.51 552.98,99.09 553.82,98.67 554.67,98.24 555.51,97.82 556.36,97.39 557.2,96.95 558.05,96.52 558.89,96.08 559.74,95.64 560.59,95.2 561.43,94.76 562.28,94.31 563.12,93.86 563.97,93.41 564.81,92.96 565.66,92.51 566.5,92.05 567.35,91.59 568.19,91.13 569.04,90.67 569.89,90.21 570.73,89.74 571.58,89.27 572.42,88.81 573.27,88.33 574.11,87.86 574.96,87.39 575.8,86.91 576.65,86.43 577.5,85.96 578.34,85.47 579.19,84.99 580.03,84.51 580.88,84.02 581.72,83.53 582.57,83.05 583.41,82.55 584.26,82.06 585.1,81.57 585.95,81.07 586.8,80.58 587.64,80.08 588.49,79.58 589.33,79.08 590.18,78.58 591.02,78.07 591.87,77.57 592.71,77.06 593.56,76.55 594.4,76.05 595.25,75.53 596.1,75.02 596.94,74.51 597.79,74 598.63,73.48 599.48,72.96 600.32,72.44 601.17,71.92 602.01,71.4 602.86,70.88 603.71,70.36 604.55,69.83 605.4,69.31 606.24,68.78 607.09,68.25 607.93,67.72 608.78,67.19 609.62,66.66 610.47,66.13 611.32,65.6 612.16,65.06 613.01,64.52 613.85,63.99 614.7,63.45 615.54,62.91 616.39,62.37 617.23,61.83 618.08,61.28 618.92,60.74 619.77,60.2 620.62,59.65 621.46,59.1 622.31,58.55 623.15,58.01 624,57.46 624.84,56.9 625.69,56.35 626.53,55.8 627.38,55.25 628.23,54.69 629.07,54.13 629.92,53.58 630.76,53.02 631.61,52.46 632.45,51.9 633.3,51.34 634.14,50.78 634.99,50.22 635.83,49.65 636.68,49.09 637.53,48.52 638.37,47.96 639.22,47.39 640.06,46.82 640.91,46.25 641.75,45.68 642.6,45.11 643.44,44.54 644.29,43.97 645.13,43.39 645.98,42.82 646.83,42.24 647.67,41.67 648.52,41.09 649.36,40.51 650.21,39.93 651.05,39.36 651.9,38.77 652.74,38.19 653.59,37.61 654.44,37.03 655.28,36.45 656.13,35.86 656.97,35.28 657.82,34.69 658.66,34.1 659.51,33.52 660.35,32.93 661.2,32.34 662.05,31.75 662.89,31.16 663.74,30.57 664.58,29.98 665.43,29.38 666.27,28.79 667.12,28.2 667.96,27.6 668.81,27 669.65,26.41 670.5,25.81" fill="none" stroke="#cc4c4c" stroke-width="1.3" stroke-linejoin="round"/>
<polyline points="501.4,116.3 502.25,116.29 503.09,116.27 503.94,116.23 504.78,116.17 505.63,116.1 506.47,116.01 507.32,115.9 508.16,115.79 509.01,115.65 509.85,115.51 510.7,115.35 511.55,115.18 512.39,115 513.24,114.81 514.08,114.61 514.93,114.39 515.77,114.17 516.62,113.94 517.46,113.7 518.31,113.45 519.16,113.19 520,112.92 520.85,112.65 521.69,112.37 522.54,112.09 523.38,111.79 524.23,111.49 525.07,111.19 525.92,110.88 526.76,110.56 527.61,110.24 528.46,109.91 529.3,109.58 530.15,109.25 530.99,108.9 531.84,108.56 532.68,108.21 533.53,107.85 534.37,107.49 535.22,107.13 536.07,106.76 536.91,106.39 537.76,106.02 538.6,105.64 539.45,105.26 540.29,104.87 541.14,104.48 541.98,104.09 542.83,103.7 543.67,103.3 544.52,102.89 545.37,102.49 546.21,102.08 547.06,101.67 547.9,101.26 548.75,100.84 549.59,100.42 550.44,100 551.28,99.58 552.13,99.15 552.98,98.72 553.82,98.29 554.67,97.85 555.51,97.41 556.36,96.97 557.2,96.53 558.05,96.09 558.89,95.64 559.74,95.19 560.59,94.74 561.43,94.29 562.28,93.83 563.12,93.37 563.97,92.91 564.81,92.45 565.66,91.99 566.5,91.52 567.35,91.06 568.19,90.59 569.04,90.11 569.89,89.64 570.73,89.16 571.58,88.69 572.42,88.21 573.27,87.73 574.11,87.24 574.96,86.76 575.8,86.27 576.65,85.79 577.5,85.3 578.34,84.8 579.19,84.31 580.03,83.82 580.88,83.32 581.72,82.82 582.57,82.32 583.41,81.82 584.26,81.32 585.1,80.81 585.95,80.31 586.8,79.8 587.64,79.29 588.49,78.78 589.33,78.27 590.18,77.76 591.02,77.24 591.87,76.73 592.71,76.21 593.56,75.69 594.4,75.17 595.25,74.65 596.1,74.13 596.94,73.6 597.79,73.08 598.63,72.55 599.48,72.02 600.32,71.49 601.17,70.96 602.01,70.43 602.86,69.89 603.71,69.36 604.55,68.82 605.4,68.29 606.24,67.75 607.09,67.21 607.93,66.67 608.78,66.13 609.62,65.58 610.47,65.04 611.32,64.49 612.16,63.95 613.01,63.4 613.85,62.85 614.7,62.3 615.54,61.75 616.39,61.2 617.23,60.64 618.08,60.09 618.92,59.53 619.77,58.98 620.62,58.42 621.46,57.86 622.31,57.3 623.15,56.74 624,56.18 624.84,55.61 625.69,55.05 626.53,54.48 627.38,53.92 628.23,53.35 629.07,52.78 629.92,52.21 630.76,51.64 631.61,51.07 632.45,50.5 633.3,49.93 634.14,49.35 634.99,48.78 635.83,48.2 636.68,47.63 637.53,47.05 638.37,46.47 639.22,45.89 640.06,45.31 640.91,44.73 641.75,44.15 642.6,43.56 643.44,42.98 644.29,42.39 645.13,41.81 645.98,41.22 646.83,40.63 647.67,40.05 648.52,39.46 649.36,38.87 650.21,38.27 651.05,37.68 651.9,37.09 652.74,36.5 653.59,35.9 654.44,35.31 655.28,34.71 656.13,34.11 656.97,33.52 657.82,32.92 658.66,32.32 659.51,31.72 660.35,31.12 661.2,30.51 662.05,29.91 662.89,29.31 663.74,28.7 664.58,28.1 665.43,27.49 666.27,26.89 667.12,26.28 667.96,25.67 668.81,25.06 669.65,24.45 670.5,23.84" fill="none" stroke="#2a2aa0" stroke-width="1.3" stroke-linejoin="round"/>
<polyline points="501.4,116.3 502.25,116.29 503.09,116.27 503.94,116.23 504.78,116.17 505.63,116.09 506.47,116.01 507.32,115.9 508.16,115.78 509.01,115.65 509.85,115.51 510.7,115.35 511.55,115.18 512.39,115 513.24,114.8 514.08,114.6 514.93,114.38 515.77,114.16 516.62,113.93 517.46,113.69 518.31,113.44 519.16,113.18 520,112.91 520.85,112.64 521.69,112.36 522.54,112.07 523.38,111.78 524.23,111.48 525.07,111.17 525.92,110.86 526.76,110.54 527.61,110.22 528.46,109.89 529.3,109.56 530.15,109.22 530.99,108.88 531.84,108.53 532.68,108.18 533.53,107.82 534.37,107.46 535.22,107.09 536.07,106.73 536.91,106.35 537.76,105.98 538.6,105.6 539.45,105.21 540.29,104.83 541.14,104.44 541.98,104.04 542.83,103.65 543.67,103.25 544.52,102.84 545.37,102.44 546.21,102.03 547.06,101.61 547.9,101.2 548.75,100.78 549.59,100.36 550.44,99.94 551.28,99.51 552.13,99.08 552.98,98.65 553.82,98.22 554.67,97.78 555.51,97.34 556.36,96.9 557.2,96.46 558.05,96.01 558.89,95.56 559.74,95.11 560.59,94.66 561.43,94.2 562.28,93.74 563.12,93.29 563.97,92.82 564.81,92.36 565.66,91.89 566.5,91.43 567.35,90.96 568.19,90.49 569.04,90.01 569.89,89.54 570.73,89.06 571.58,88.58 572.42,88.1 573.27,87.62 574.11,87.13 574.96,86.65 575.8,86.16 576.65,85.67 577.5,85.18 578.34,84.68 579.19,84.19 580.03,83.69 580.88,83.19 581.72,82.69 582.57,82.19 583.41,81.69 584.26,81.18 585.1,80.68 585.95,80.17 586.8,79.66 587.64,79.15 588.49,78.64 589.33,78.12 590.18,77.61 591.02,77.09 591.87,76.57 592.71,76.05 593.56,75.53 594.4,75.01 595.25,74.49 596.1,73.96 596.94,73.44 597.79,72.91 598.63,72.38 599.48,71.85 600.32,71.32 601.17,70.78 602.01,70.25 602.86,69.71 603.71,69.18 604.55,68.64 605.4,68.1 606.24,67.56 607.09,67.02 607.93,66.48 608.78,65.93 609.62,65.39 610.47,64.84 611.32,64.29 612.16,63.74 613.01,63.19 613.85,62.64 614.7,62.09 615.54,61.54 616.39,60.98 617.23,60.43 618.08,59.87 618.92,59.31 619.77,58.75 620.62,58.19 621.46,57.63 622.31,57.07 623.15,56.51 624,55.94 624.84,55.38 625.69,54.81 626.53,54.25 627.38,53.68 628.23,53.11 629.07,52.54 629.92,51.97 630.76,51.39 631.61,50.82 632.45,50.25 633.3,49.67 634.14,49.09 634.99,48.52 635.83,47.94 636.68,47.36 637.53,46.78 638.37,46.2 639.22,45.62 640.06,45.04 640.91,44.45 641.75,43.87 642.6,43.28 643.44,42.7 644.29,42.11 645.13,41.52 645.98,40.93 646.83,40.34 647.67,39.75 648.52,39.16 649.36,38.57 650.21,37.97 651.05,37.38 651.9,36.78 652.74,36.19 653.59,35.59 654.44,34.99 655.28,34.39 656.13,33.8 656.97,33.2 657.82,32.59 658.66,31.99 659.51,31.39 660.35,30.79 661.2,30.18 662.05,29.58 662.89,28.97 663.74,28.37 664.58,27.76 665.43,27.15 666.27,26.54 667.12,25.93 667.96,25.32 668.81,24.71 669.65,24.1 670.5,23.49" fill="none" stroke="#3cd03c" stroke-width="1.3" stroke-linejoin="round"/>
<line x1="496.9" y1="116.3" x2="501.4" y2="116.3" stroke="#222" stroke-width="1.2"/>
<text transform="translate(496,121.1) scale(0.94,1)" font-size="12.3" text-anchor="end">0</text>
<line x1="496.9" y1="80.53" x2="501.4" y2="80.53" stroke="#222" stroke-width="1.2"/>
<text transform="translate(496,85.33) scale(0.94,1)" font-size="12.3" text-anchor="end">10</text>
<line x1="496.9" y1="44.77" x2="501.4" y2="44.77" stroke="#222" stroke-width="1.2"/>
<text transform="translate(496,49.57) scale(0.94,1)" font-size="12.3" text-anchor="end">20</text>
<line x1="496.9" y1="9" x2="501.4" y2="9" stroke="#222" stroke-width="1.2"/>
<text transform="translate(496,13.8) scale(0.94,1)" font-size="12.3" text-anchor="end">30</text>
<line x1="501.4" y1="116.3" x2="501.4" y2="120.8" stroke="#222" stroke-width="1.2"/>
<text transform="translate(501.6,133.7) scale(0.94,1)" font-size="12.3" text-anchor="middle">0</text>
<line x1="543.67" y1="116.3" x2="543.67" y2="120.8" stroke="#222" stroke-width="1.2"/>
<text transform="translate(543.88,133.7) scale(0.94,1)" font-size="12.3" text-anchor="middle">250</text>
<line x1="585.95" y1="116.3" x2="585.95" y2="120.8" stroke="#222" stroke-width="1.2"/>
<text transform="translate(586.15,133.7) scale(0.94,1)" font-size="12.3" text-anchor="middle">500</text>
<line x1="628.23" y1="116.3" x2="628.23" y2="120.8" stroke="#222" stroke-width="1.2"/>
<text transform="translate(628.43,133.7) scale(0.94,1)" font-size="12.3" text-anchor="middle">750</text>
<line x1="670.5" y1="116.3" x2="670.5" y2="120.8" stroke="#222" stroke-width="1.2"/>
<text transform="translate(670.7,133.7) scale(0.94,1)" font-size="12.3" text-anchor="middle">1000</text>
<line x1="501.4" y1="9" x2="670.5" y2="9" stroke="#555" stroke-width="1.6"/>
<line x1="670.7" y1="8.2" x2="670.7" y2="116.3" stroke="#222" stroke-width="1.6"/>
<line x1="501.4" y1="8.5" x2="501.4" y2="116.9" stroke="#111" stroke-width="1.2"/>
<line x1="500.8" y1="116.3" x2="671.2" y2="116.3" stroke="#111" stroke-width="1.4"/>
<text x="586.45" y="151.9" font-size="12" text-anchor="middle" textLength="86.5" lengthAdjust="spacingAndGlyphs">Temperature (K)</text>
<text transform="translate(476.9,60.15) rotate(-90)" font-size="12.3" text-anchor="middle" textLength="95.7" lengthAdjust="spacingAndGlyphs">Total Entropy (eV)</text>
<line x1="507" y1="17.9" x2="518.5" y2="17.9" stroke="#444" stroke-width="1.6"/>
<text x="525.1" y="21.9" font-size="10.5" textLength="58.8" lengthAdjust="spacingAndGlyphs">Doping (0%)</text>
<line x1="507" y1="30.6" x2="518.5" y2="30.6" stroke="#cc4c4c" stroke-width="1.6"/>
<text x="525.1" y="34.6" font-size="10.5" textLength="58.8" lengthAdjust="spacingAndGlyphs">Doping (6%)</text>
<line x1="507" y1="43.3" x2="518.5" y2="43.3" stroke="#3cd03c" stroke-width="1.6"/>
<text x="525.1" y="47.3" font-size="10.5" textLength="63.8" lengthAdjust="spacingAndGlyphs">Doping (11%)</text>
<line x1="507" y1="55.9" x2="518.5" y2="55.9" stroke="#2a2aa0" stroke-width="1.6"/>
<text x="525.1" y="59.9" font-size="10.5" textLength="64.8" lengthAdjust="spacingAndGlyphs">Doping (17%)</text>
<rect x="646.5" y="93.3" width="19.3" height="19.4" fill="#fff" stroke="#2a2a2a" stroke-width="1.5"/>
<text x="655.85" y="107.6" font-size="12.8" text-anchor="middle" textLength="16" lengthAdjust="spacingAndGlyphs">(c)</text>
<polyline points="154.1,292.3 154.52,289.85 154.95,287.41 155.37,284.99 155.79,282.61 156.22,280.26 156.64,277.97 157.06,275.73 157.49,273.56 157.91,271.45 158.34,269.42 158.76,267.47 159.18,265.59 159.61,263.8 160.03,262.08 160.45,260.45 160.88,258.9 161.3,257.42 161.72,256.02 162.15,254.69 162.57,253.44 162.99,252.25 163.42,251.13 163.84,250.07 164.26,249.07 164.69,248.12 165.11,247.23 165.53,246.39 165.96,245.59 166.38,244.84 166.81,244.14 167.23,243.47 167.65,242.83 168.08,242.24 168.5,241.67 168.92,241.14 169.35,240.63 169.77,240.15 170.19,239.7 170.62,239.27 171.04,238.86 171.46,238.47 171.89,238.11 172.31,237.76 172.73,237.43 173.16,237.11 173.58,236.81 174,236.53 174.43,236.26 174.85,236 175.28,235.75 175.7,235.52 176.12,235.29 176.55,235.08 176.97,234.87 177.39,234.68 177.82,234.49 178.24,234.31 178.66,234.14 179.09,233.98 179.51,233.82 179.93,233.67 180.36,233.52 180.78,233.38 181.2,233.25 181.63,233.12 182.05,233 182.47,232.88 182.9,232.77 183.32,232.66 183.75,232.55 184.17,232.45 184.59,232.35 185.02,232.26 185.44,232.17 185.86,232.08 186.29,232 186.71,231.91 187.13,231.83 187.56,231.76 187.98,231.68 188.4,231.61 188.83,231.54 189.25,231.48 189.67,231.41 190.1,231.35 190.52,231.29 190.94,231.23 191.37,231.18 191.79,231.12 192.22,231.07 192.64,231.02 193.06,230.97 193.49,230.92 193.91,230.87 194.33,230.82 194.76,230.78 195.18,230.74 195.6,230.7 196.03,230.65 196.45,230.61 196.87,230.58 197.3,230.54 197.72,230.5 198.14,230.47 198.57,230.43 198.99,230.4 199.41,230.37 199.84,230.33 200.26,230.3 200.69,230.27 201.11,230.24 201.53,230.21 201.96,230.19 202.38,230.16 202.8,230.13 203.23,230.11 203.65,230.08 204.07,230.06 204.5,230.03 204.92,230.01 205.34,229.99 205.77,229.96 206.19,229.94 206.61,229.92 207.04,229.9 207.46,229.88 207.88,229.86 208.31,229.84 208.73,229.82 209.16,229.8 209.58,229.78 210,229.77 210.43,229.75 210.85,229.73 211.27,229.71 211.7,229.7 212.12,229.68 212.54,229.67 212.97,229.65 213.39,229.64 213.81,229.62 214.24,229.61 214.66,229.59 215.08,229.58 215.51,229.56 215.93,229.55 216.35,229.54 216.78,229.53 217.2,229.51 217.62,229.5 218.05,229.49 218.47,229.48 218.9,229.46 219.32,229.45 219.74,229.44 220.17,229.43 220.59,229.42 221.01,229.41 221.44,229.4 221.86,229.39 222.28,229.38 222.71,229.37 223.13,229.36 223.55,229.35 223.98,229.34 224.4,229.33 224.82,229.32 225.25,229.31 225.67,229.3 226.09,229.3 226.52,229.29 226.94,229.28 227.37,229.27 227.79,229.26 228.21,229.26 228.64,229.25 229.06,229.24 229.48,229.23 229.91,229.23 230.33,229.22 230.75,229.21 231.18,229.2 231.6,229.2 232.02,229.19 232.45,229.18 232.87,229.18 233.29,229.17 233.72,229.16 234.14,229.16 234.56,229.15 234.99,229.15 235.41,229.14 235.84,229.13 236.26,229.13 236.68,229.12 237.11,229.12 237.53,229.11 237.95,229.11 238.38,229.1 238.8,229.1 239.22,229.09 239.65,229.09 240.07,229.08 240.49,229.08 240.92,229.07 241.34,229.07 241.76,229.06 242.19,229.06 242.61,229.05 243.03,229.05 243.46,229.04 243.88,229.04 244.31,229.03 244.73,229.03 245.15,229.02 245.58,229.02 246,229.02 246.42,229.01 246.85,229.01 247.27,229 247.69,229 248.12,229 248.54,228.99 248.96,228.99 249.39,228.99 249.81,228.98 250.23,228.98 250.66,228.97 251.08,228.97 251.5,228.97 251.93,228.96 252.35,228.96 252.78,228.96 253.2,228.95 253.62,228.95 254.05,228.95 254.47,228.94 254.89,228.94 255.32,228.94 255.74,228.93 256.16,228.93 256.59,228.93 257.01,228.93 257.43,228.92 257.86,228.92 258.28,228.92 258.7,228.91 259.13,228.91 259.55,228.91 259.98,228.91 260.4,228.9 260.82,228.9 261.25,228.9 261.67,228.9 262.09,228.89 262.52,228.89 262.94,228.89 263.36,228.88 263.79,228.88 264.21,228.88 264.63,228.88 265.06,228.88 265.48,228.87 265.9,228.87 266.33,228.87 266.75,228.87 267.17,228.86 267.6,228.86 268.02,228.86 268.44,228.86 268.87,228.86 269.29,228.85 269.72,228.85 270.14,228.85 270.56,228.85 270.99,228.84 271.41,228.84 271.83,228.84 272.26,228.84 272.68,228.84 273.1,228.83 273.53,228.83 273.95,228.83 274.37,228.83 274.8,228.83 275.22,228.83 275.64,228.82 276.07,228.82 276.49,228.82 276.91,228.82 277.34,228.82 277.76,228.81 278.19,228.81 278.61,228.81 279.03,228.81 279.46,228.81 279.88,228.81 280.3,228.81 280.73,228.8 281.15,228.8 281.57,228.8 282,228.8 282.42,228.8 282.84,228.8 283.27,228.79 283.69,228.79 284.11,228.79 284.54,228.79 284.96,228.79 285.38,228.79 285.81,228.79 286.23,228.78 286.66,228.78 287.08,228.78 287.5,228.78 287.93,228.78 288.35,228.78 288.77,228.78 289.2,228.77 289.62,228.77 290.04,228.77 290.47,228.77 290.89,228.77 291.31,228.77 291.74,228.77 292.16,228.77 292.58,228.76 293.01,228.76 293.43,228.76 293.86,228.76 294.28,228.76 294.7,228.76 295.13,228.76 295.55,228.76 295.97,228.75 296.4,228.75 296.82,228.75 297.24,228.75 297.67,228.75 298.09,228.75 298.51,228.75 298.94,228.75 299.36,228.75 299.78,228.75 300.21,228.74 300.63,228.74 301.05,228.74 301.48,228.74 301.9,228.74 302.32,228.74 302.75,228.74 303.17,228.74 303.6,228.74 304.02,228.74 304.44,228.73 304.87,228.73 305.29,228.73 305.71,228.73 306.14,228.73 306.56,228.73 306.98,228.73 307.41,228.73 307.83,228.73 308.25,228.73 308.68,228.72 309.1,228.72 309.52,228.72 309.95,228.72 310.37,228.72 310.79,228.72 311.22,228.72 311.64,228.72 312.07,228.72 312.49,228.72 312.91,228.72 313.34,228.72 313.76,228.71 314.18,228.71 314.61,228.71 315.03,228.71 315.45,228.71 315.88,228.71 316.3,228.71 316.72,228.71 317.15,228.71 317.57,228.71 317.99,228.71 318.42,228.71 318.84,228.71 319.26,228.7 319.69,228.7 320.11,228.7 320.54,228.7 320.96,228.7 321.38,228.7 321.81,228.7 322.23,228.7 322.65,228.7 323.08,228.7 323.5,228.7" fill="none" stroke="#151515" stroke-width="1.3" stroke-linejoin="round"/>
<polyline points="154.1,292.3 154.52,289.48 154.95,286.67 155.37,283.89 155.79,281.13 156.22,278.42 156.64,275.75 157.06,273.15 157.49,270.6 157.91,268.13 158.34,265.74 158.76,263.42 159.18,261.19 159.61,259.04 160.03,256.98 160.45,255.01 160.88,253.12 161.3,251.31 161.72,249.59 162.15,247.96 162.57,246.4 162.99,244.92 163.42,243.51 163.84,242.17 164.26,240.91 164.69,239.7 165.11,238.56 165.53,237.48 165.96,236.46 166.38,235.49 166.81,234.57 167.23,233.69 167.65,232.87 168.08,232.08 168.5,231.34 168.92,230.63 169.35,229.96 169.77,229.33 170.19,228.72 170.62,228.15 171.04,227.6 171.46,227.08 171.89,226.59 172.31,226.12 172.73,225.67 173.16,225.25 173.58,224.84 174,224.45 174.43,224.08 174.85,223.73 175.28,223.4 175.7,223.07 176.12,222.77 176.55,222.47 176.97,222.19 177.39,221.92 177.82,221.66 178.24,221.42 178.66,221.18 179.09,220.95 179.51,220.74 179.93,220.53 180.36,220.33 180.78,220.13 181.2,219.95 181.63,219.77 182.05,219.6 182.47,219.43 182.9,219.28 183.32,219.12 183.75,218.98 184.17,218.83 184.59,218.7 185.02,218.57 185.44,218.44 185.86,218.32 186.29,218.2 186.71,218.08 187.13,217.97 187.56,217.86 187.98,217.76 188.4,217.66 188.83,217.56 189.25,217.47 189.67,217.38 190.1,217.29 190.52,217.21 190.94,217.12 191.37,217.04 191.79,216.97 192.22,216.89 192.64,216.82 193.06,216.75 193.49,216.68 193.91,216.61 194.33,216.55 194.76,216.49 195.18,216.43 195.6,216.37 196.03,216.31 196.45,216.25 196.87,216.2 197.3,216.14 197.72,216.09 198.14,216.04 198.57,215.99 198.99,215.95 199.41,215.9 199.84,215.85 200.26,215.81 200.69,215.77 201.11,215.73 201.53,215.69 201.96,215.65 202.38,215.61 202.8,215.57 203.23,215.53 203.65,215.5 204.07,215.46 204.5,215.43 204.92,215.39 205.34,215.36 205.77,215.33 206.19,215.3 206.61,215.27 207.04,215.24 207.46,215.21 207.88,215.18 208.31,215.15 208.73,215.12 209.16,215.1 209.58,215.07 210,215.05 210.43,215.02 210.85,215 211.27,214.97 211.7,214.95 212.12,214.93 212.54,214.9 212.97,214.88 213.39,214.86 213.81,214.84 214.24,214.82 214.66,214.8 215.08,214.78 215.51,214.76 215.93,214.74 216.35,214.72 216.78,214.7 217.2,214.69 217.62,214.67 218.05,214.65 218.47,214.63 218.9,214.62 219.32,214.6 219.74,214.59 220.17,214.57 220.59,214.55 221.01,214.54 221.44,214.52 221.86,214.51 222.28,214.5 222.71,214.48 223.13,214.47 223.55,214.45 223.98,214.44 224.4,214.43 224.82,214.41 225.25,214.4 225.67,214.39 226.09,214.38 226.52,214.37 226.94,214.35 227.37,214.34 227.79,214.33 228.21,214.32 228.64,214.31 229.06,214.3 229.48,214.29 229.91,214.28 230.33,214.27 230.75,214.26 231.18,214.25 231.6,214.24 232.02,214.23 232.45,214.22 232.87,214.21 233.29,214.2 233.72,214.19 234.14,214.18 234.56,214.17 234.99,214.16 235.41,214.15 235.84,214.15 236.26,214.14 236.68,214.13 237.11,214.12 237.53,214.11 237.95,214.11 238.38,214.1 238.8,214.09 239.22,214.08 239.65,214.08 240.07,214.07 240.49,214.06 240.92,214.05 241.34,214.05 241.76,214.04 242.19,214.03 242.61,214.03 243.03,214.02 243.46,214.01 243.88,214.01 244.31,214 244.73,213.99 245.15,213.99 245.58,213.98 246,213.98 246.42,213.97 246.85,213.96 247.27,213.96 247.69,213.95 248.12,213.95 248.54,213.94 248.96,213.94 249.39,213.93 249.81,213.93 250.23,213.92 250.66,213.92 251.08,213.91 251.5,213.91 251.93,213.9 252.35,213.9 252.78,213.89 253.2,213.89 253.62,213.88 254.05,213.88 254.47,213.87 254.89,213.87 255.32,213.86 255.74,213.86 256.16,213.85 256.59,213.85 257.01,213.85 257.43,213.84 257.86,213.84 258.28,213.83 258.7,213.83 259.13,213.83 259.55,213.82 259.98,213.82 260.4,213.81 260.82,213.81 261.25,213.81 261.67,213.8 262.09,213.8 262.52,213.8 262.94,213.79 263.36,213.79 263.79,213.78 264.21,213.78 264.63,213.78 265.06,213.77 265.48,213.77 265.9,213.77 266.33,213.76 266.75,213.76 267.17,213.76 267.6,213.75 268.02,213.75 268.44,213.75 268.87,213.75 269.29,213.74 269.72,213.74 270.14,213.74 270.56,213.73 270.99,213.73 271.41,213.73 271.83,213.72 272.26,213.72 272.68,213.72 273.1,213.72 273.53,213.71 273.95,213.71 274.37,213.71 274.8,213.71 275.22,213.7 275.64,213.7 276.07,213.7 276.49,213.7 276.91,213.69 277.34,213.69 277.76,213.69 278.19,213.69 278.61,213.68 279.03,213.68 279.46,213.68 279.88,213.68 280.3,213.67 280.73,213.67 281.15,213.67 281.57,213.67 282,213.66 282.42,213.66 282.84,213.66 283.27,213.66 283.69,213.66 284.11,213.65 284.54,213.65 284.96,213.65 285.38,213.65 285.81,213.65 286.23,213.64 286.66,213.64 287.08,213.64 287.5,213.64 287.93,213.64 288.35,213.63 288.77,213.63 289.2,213.63 289.62,213.63 290.04,213.63 290.47,213.62 290.89,213.62 291.31,213.62 291.74,213.62 292.16,213.62 292.58,213.62 293.01,213.61 293.43,213.61 293.86,213.61 294.28,213.61 294.7,213.61 295.13,213.6 295.55,213.6 295.97,213.6 296.4,213.6 296.82,213.6 297.24,213.6 297.67,213.6 298.09,213.59 298.51,213.59 298.94,213.59 299.36,213.59 299.78,213.59 300.21,213.59 300.63,213.58 301.05,213.58 301.48,213.58 301.9,213.58 302.32,213.58 302.75,213.58 303.17,213.58 303.6,213.57 304.02,213.57 304.44,213.57 304.87,213.57 305.29,213.57 305.71,213.57 306.14,213.57 306.56,213.56 306.98,213.56 307.41,213.56 307.83,213.56 308.25,213.56 308.68,213.56 309.1,213.56 309.52,213.56 309.95,213.55 310.37,213.55 310.79,213.55 311.22,213.55 311.64,213.55 312.07,213.55 312.49,213.55 312.91,213.55 313.34,213.55 313.76,213.54 314.18,213.54 314.61,213.54 315.03,213.54 315.45,213.54 315.88,213.54 316.3,213.54 316.72,213.54 317.15,213.54 317.57,213.53 317.99,213.53 318.42,213.53 318.84,213.53 319.26,213.53 319.69,213.53 320.11,213.53 320.54,213.53 320.96,213.53 321.38,213.52 321.81,213.52 322.23,213.52 322.65,213.52 323.08,213.52 323.5,213.52" fill="none" stroke="#cc4c4c" stroke-width="1.3" stroke-linejoin="round"/>
<polyline points="154.1,292.3 154.52,289.39 154.95,286.49 155.37,283.61 155.79,280.77 156.22,277.96 156.64,275.21 157.06,272.52 157.49,269.9 157.91,267.35 158.34,264.87 158.76,262.48 159.18,260.18 159.61,257.96 160.03,255.83 160.45,253.79 160.88,251.84 161.3,249.98 161.72,248.2 162.15,246.51 162.57,244.9 162.99,243.37 163.42,241.92 163.84,240.54 164.26,239.23 164.69,237.99 165.11,236.81 165.53,235.69 165.96,234.64 166.38,233.63 166.81,232.68 167.23,231.78 167.65,230.93 168.08,230.12 168.5,229.35 168.92,228.62 169.35,227.93 169.77,227.27 170.19,226.65 170.62,226.06 171.04,225.49 171.46,224.96 171.89,224.45 172.31,223.96 172.73,223.5 173.16,223.06 173.58,222.64 174,222.24 174.43,221.86 174.85,221.5 175.28,221.15 175.7,220.82 176.12,220.5 176.55,220.2 176.97,219.91 177.39,219.63 177.82,219.36 178.24,219.11 178.66,218.86 179.09,218.63 179.51,218.4 179.93,218.19 180.36,217.98 180.78,217.78 181.2,217.59 181.63,217.41 182.05,217.23 182.47,217.06 182.9,216.89 183.32,216.74 183.75,216.58 184.17,216.44 184.59,216.3 185.02,216.16 185.44,216.03 185.86,215.9 186.29,215.78 186.71,215.66 187.13,215.55 187.56,215.44 187.98,215.33 188.4,215.23 188.83,215.13 189.25,215.03 189.67,214.94 190.1,214.85 190.52,214.76 190.94,214.67 191.37,214.59 191.79,214.51 192.22,214.43 192.64,214.36 193.06,214.29 193.49,214.21 193.91,214.15 194.33,214.08 194.76,214.01 195.18,213.95 195.6,213.89 196.03,213.83 196.45,213.77 196.87,213.72 197.3,213.66 197.72,213.61 198.14,213.56 198.57,213.51 198.99,213.46 199.41,213.41 199.84,213.36 200.26,213.32 200.69,213.27 201.11,213.23 201.53,213.19 201.96,213.15 202.38,213.11 202.8,213.07 203.23,213.03 203.65,212.99 204.07,212.96 204.5,212.92 204.92,212.89 205.34,212.85 205.77,212.82 206.19,212.79 206.61,212.75 207.04,212.72 207.46,212.69 207.88,212.66 208.31,212.64 208.73,212.61 209.16,212.58 209.58,212.55 210,212.53 210.43,212.5 210.85,212.48 211.27,212.45 211.7,212.43 212.12,212.4 212.54,212.38 212.97,212.36 213.39,212.34 213.81,212.31 214.24,212.29 214.66,212.27 215.08,212.25 215.51,212.23 215.93,212.21 216.35,212.19 216.78,212.17 217.2,212.15 217.62,212.14 218.05,212.12 218.47,212.1 218.9,212.08 219.32,212.07 219.74,212.05 220.17,212.03 220.59,212.02 221.01,212 221.44,211.99 221.86,211.97 222.28,211.96 222.71,211.94 223.13,211.93 223.55,211.92 223.98,211.9 224.4,211.89 224.82,211.87 225.25,211.86 225.67,211.85 226.09,211.84 226.52,211.82 226.94,211.81 227.37,211.8 227.79,211.79 228.21,211.78 228.64,211.76 229.06,211.75 229.48,211.74 229.91,211.73 230.33,211.72 230.75,211.71 231.18,211.7 231.6,211.69 232.02,211.68 232.45,211.67 232.87,211.66 233.29,211.65 233.72,211.64 234.14,211.63 234.56,211.62 234.99,211.61 235.41,211.61 235.84,211.6 236.26,211.59 236.68,211.58 237.11,211.57 237.53,211.56 237.95,211.56 238.38,211.55 238.8,211.54 239.22,211.53 239.65,211.52 240.07,211.52 240.49,211.51 240.92,211.5 241.34,211.5 241.76,211.49 242.19,211.48 242.61,211.47 243.03,211.47 243.46,211.46 243.88,211.45 244.31,211.45 244.73,211.44 245.15,211.43 245.58,211.43 246,211.42 246.42,211.42 246.85,211.41 247.27,211.4 247.69,211.4 248.12,211.39 248.54,211.39 248.96,211.38 249.39,211.38 249.81,211.37 250.23,211.37 250.66,211.36 251.08,211.35 251.5,211.35 251.93,211.34 252.35,211.34 252.78,211.33 253.2,211.33 253.62,211.32 254.05,211.32 254.47,211.32 254.89,211.31 255.32,211.31 255.74,211.3 256.16,211.3 256.59,211.29 257.01,211.29 257.43,211.28 257.86,211.28 258.28,211.28 258.7,211.27 259.13,211.27 259.55,211.26 259.98,211.26 260.4,211.25 260.82,211.25 261.25,211.25 261.67,211.24 262.09,211.24 262.52,211.24 262.94,211.23 263.36,211.23 263.79,211.22 264.21,211.22 264.63,211.22 265.06,211.21 265.48,211.21 265.9,211.21 266.33,211.2 266.75,211.2 267.17,211.2 267.6,211.19 268.02,211.19 268.44,211.19 268.87,211.18 269.29,211.18 269.72,211.18 270.14,211.17 270.56,211.17 270.99,211.17 271.41,211.17 271.83,211.16 272.26,211.16 272.68,211.16 273.1,211.15 273.53,211.15 273.95,211.15 274.37,211.15 274.8,211.14 275.22,211.14 275.64,211.14 276.07,211.13 276.49,211.13 276.91,211.13 277.34,211.13 277.76,211.12 278.19,211.12 278.61,211.12 279.03,211.12 279.46,211.11 279.88,211.11 280.3,211.11 280.73,211.11 281.15,211.1 281.57,211.1 282,211.1 282.42,211.1 282.84,211.1 283.27,211.09 283.69,211.09 284.11,211.09 284.54,211.09 284.96,211.08 285.38,211.08 285.81,211.08 286.23,211.08 286.66,211.08 287.08,211.07 287.5,211.07 287.93,211.07 288.35,211.07 288.77,211.07 289.2,211.06 289.62,211.06 290.04,211.06 290.47,211.06 290.89,211.06 291.31,211.05 291.74,211.05 292.16,211.05 292.58,211.05 293.01,211.05 293.43,211.05 293.86,211.04 294.28,211.04 294.7,211.04 295.13,211.04 295.55,211.04 295.97,211.04 296.4,211.03 296.82,211.03 297.24,211.03 297.67,211.03 298.09,211.03 298.51,211.03 298.94,211.02 299.36,211.02 299.78,211.02 300.21,211.02 300.63,211.02 301.05,211.02 301.48,211.01 301.9,211.01 302.32,211.01 302.75,211.01 303.17,211.01 303.6,211.01 304.02,211.01 304.44,211 304.87,211 305.29,211 305.71,211 306.14,211 306.56,211 306.98,211 307.41,210.99 307.83,210.99 308.25,210.99 308.68,210.99 309.1,210.99 309.52,210.99 309.95,210.99 310.37,210.99 310.79,210.98 311.22,210.98 311.64,210.98 312.07,210.98 312.49,210.98 312.91,210.98 313.34,210.98 313.76,210.98 314.18,210.97 314.61,210.97 315.03,210.97 315.45,210.97 315.88,210.97 316.3,210.97 316.72,210.97 317.15,210.97 317.57,210.97 317.99,210.96 318.42,210.96 318.84,210.96 319.26,210.96 319.69,210.96 320.11,210.96 320.54,210.96 320.96,210.96 321.38,210.96 321.81,210.96 322.23,210.95 322.65,210.95 323.08,210.95 323.5,210.95" fill="none" stroke="#3cd03c" stroke-width="1.3" stroke-linejoin="round"/>
<polyline points="154.1,292.3 154.52,289.27 154.95,286.25 155.37,283.25 155.79,280.28 156.22,277.36 156.64,274.49 157.06,271.69 157.49,268.95 157.91,266.29 158.34,263.72 158.76,261.23 159.18,258.82 159.61,256.51 160.03,254.3 160.45,252.17 160.88,250.14 161.3,248.2 161.72,246.35 162.15,244.58 162.57,242.91 162.99,241.31 163.42,239.8 163.84,238.36 164.26,236.99 164.69,235.7 165.11,234.47 165.53,233.31 165.96,232.21 166.38,231.16 166.81,230.17 167.23,229.23 167.65,228.34 168.08,227.5 168.5,226.7 168.92,225.94 169.35,225.22 169.77,224.54 170.19,223.89 170.62,223.27 171.04,222.68 171.46,222.12 171.89,221.59 172.31,221.09 172.73,220.6 173.16,220.15 173.58,219.71 174,219.29 174.43,218.89 174.85,218.52 175.28,218.15 175.7,217.81 176.12,217.48 176.55,217.16 176.97,216.86 177.39,216.57 177.82,216.29 178.24,216.02 178.66,215.77 179.09,215.53 179.51,215.29 179.93,215.07 180.36,214.85 180.78,214.64 181.2,214.44 181.63,214.25 182.05,214.07 182.47,213.89 182.9,213.72 183.32,213.55 183.75,213.4 184.17,213.24 184.59,213.1 185.02,212.95 185.44,212.82 185.86,212.69 186.29,212.56 186.71,212.43 187.13,212.32 187.56,212.2 187.98,212.09 188.4,211.98 188.83,211.88 189.25,211.78 189.67,211.68 190.1,211.58 190.52,211.49 190.94,211.4 191.37,211.32 191.79,211.24 192.22,211.15 192.64,211.08 193.06,211 193.49,210.93 193.91,210.85 194.33,210.79 194.76,210.72 195.18,210.65 195.6,210.59 196.03,210.53 196.45,210.47 196.87,210.41 197.3,210.35 197.72,210.29 198.14,210.24 198.57,210.19 198.99,210.14 199.41,210.09 199.84,210.04 200.26,209.99 200.69,209.94 201.11,209.9 201.53,209.86 201.96,209.81 202.38,209.77 202.8,209.73 203.23,209.69 203.65,209.65 204.07,209.61 204.5,209.58 204.92,209.54 205.34,209.51 205.77,209.47 206.19,209.44 206.61,209.41 207.04,209.37 207.46,209.34 207.88,209.31 208.31,209.28 208.73,209.25 209.16,209.22 209.58,209.2 210,209.17 210.43,209.14 210.85,209.12 211.27,209.09 211.7,209.06 212.12,209.04 212.54,209.02 212.97,208.99 213.39,208.97 213.81,208.95 214.24,208.92 214.66,208.9 215.08,208.88 215.51,208.86 215.93,208.84 216.35,208.82 216.78,208.8 217.2,208.78 217.62,208.76 218.05,208.74 218.47,208.72 218.9,208.71 219.32,208.69 219.74,208.67 220.17,208.66 220.59,208.64 221.01,208.62 221.44,208.61 221.86,208.59 222.28,208.58 222.71,208.56 223.13,208.55 223.55,208.53 223.98,208.52 224.4,208.5 224.82,208.49 225.25,208.47 225.67,208.46 226.09,208.45 226.52,208.44 226.94,208.42 227.37,208.41 227.79,208.4 228.21,208.39 228.64,208.37 229.06,208.36 229.48,208.35 229.91,208.34 230.33,208.33 230.75,208.32 231.18,208.31 231.6,208.3 232.02,208.29 232.45,208.28 232.87,208.27 233.29,208.26 233.72,208.25 234.14,208.24 234.56,208.23 234.99,208.22 235.41,208.21 235.84,208.2 236.26,208.19 236.68,208.18 237.11,208.17 237.53,208.16 237.95,208.16 238.38,208.15 238.8,208.14 239.22,208.13 239.65,208.12 240.07,208.12 240.49,208.11 240.92,208.1 241.34,208.09 241.76,208.09 242.19,208.08 242.61,208.07 243.03,208.06 243.46,208.06 243.88,208.05 244.31,208.04 244.73,208.04 245.15,208.03 245.58,208.02 246,208.02 246.42,208.01 246.85,208 247.27,208 247.69,207.99 248.12,207.99 248.54,207.98 248.96,207.97 249.39,207.97 249.81,207.96 250.23,207.96 250.66,207.95 251.08,207.95 251.5,207.94 251.93,207.94 252.35,207.93 252.78,207.93 253.2,207.92 253.62,207.92 254.05,207.91 254.47,207.91 254.89,207.9 255.32,207.9 255.74,207.89 256.16,207.89 256.59,207.88 257.01,207.88 257.43,207.87 257.86,207.87 258.28,207.86 258.7,207.86 259.13,207.85 259.55,207.85 259.98,207.85 260.4,207.84 260.82,207.84 261.25,207.83 261.67,207.83 262.09,207.83 262.52,207.82 262.94,207.82 263.36,207.81 263.79,207.81 264.21,207.81 264.63,207.8 265.06,207.8 265.48,207.8 265.9,207.79 266.33,207.79 266.75,207.79 267.17,207.78 267.6,207.78 268.02,207.78 268.44,207.77 268.87,207.77 269.29,207.77 269.72,207.76 270.14,207.76 270.56,207.76 270.99,207.75 271.41,207.75 271.83,207.75 272.26,207.74 272.68,207.74 273.1,207.74 273.53,207.73 273.95,207.73 274.37,207.73 274.8,207.73 275.22,207.72 275.64,207.72 276.07,207.72 276.49,207.71 276.91,207.71 277.34,207.71 277.76,207.71 278.19,207.7 278.61,207.7 279.03,207.7 279.46,207.7 279.88,207.69 280.3,207.69 280.73,207.69 281.15,207.69 281.57,207.68 282,207.68 282.42,207.68 282.84,207.68 283.27,207.67 283.69,207.67 284.11,207.67 284.54,207.67 284.96,207.67 285.38,207.66 285.81,207.66 286.23,207.66 286.66,207.66 287.08,207.65 287.5,207.65 287.93,207.65 288.35,207.65 288.77,207.65 289.2,207.64 289.62,207.64 290.04,207.64 290.47,207.64 290.89,207.64 291.31,207.63 291.74,207.63 292.16,207.63 292.58,207.63 293.01,207.63 293.43,207.62 293.86,207.62 294.28,207.62 294.7,207.62 295.13,207.62 295.55,207.62 295.97,207.61 296.4,207.61 296.82,207.61 297.24,207.61 297.67,207.61 298.09,207.61 298.51,207.6 298.94,207.6 299.36,207.6 299.78,207.6 300.21,207.6 300.63,207.6 301.05,207.59 301.48,207.59 301.9,207.59 302.32,207.59 302.75,207.59 303.17,207.59 303.6,207.58 304.02,207.58 304.44,207.58 304.87,207.58 305.29,207.58 305.71,207.58 306.14,207.58 306.56,207.57 306.98,207.57 307.41,207.57 307.83,207.57 308.25,207.57 308.68,207.57 309.1,207.57 309.52,207.56 309.95,207.56 310.37,207.56 310.79,207.56 311.22,207.56 311.64,207.56 312.07,207.56 312.49,207.56 312.91,207.55 313.34,207.55 313.76,207.55 314.18,207.55 314.61,207.55 315.03,207.55 315.45,207.55 315.88,207.55 316.3,207.54 316.72,207.54 317.15,207.54 317.57,207.54 317.99,207.54 318.42,207.54 318.84,207.54 319.26,207.54 319.69,207.54 320.11,207.53 320.54,207.53 320.96,207.53 321.38,207.53 321.81,207.53 322.23,207.53 322.65,207.53 323.08,207.53 323.5,207.53" fill="none" stroke="#2a2aa0" stroke-width="1.3" stroke-linejoin="round"/>
<line x1="149.6" y1="292.3" x2="154.1" y2="292.3" stroke="#222" stroke-width="1.2"/>
<text transform="translate(148.7,297.1) scale(0.94,1)" font-size="12.3" text-anchor="end">0</text>
<line x1="149.6" y1="270.84" x2="154.1" y2="270.84" stroke="#222" stroke-width="1.2"/>
<text transform="translate(148.7,275.64) scale(0.94,1)" font-size="12.3" text-anchor="end">50</text>
<line x1="149.6" y1="249.38" x2="154.1" y2="249.38" stroke="#222" stroke-width="1.2"/>
<text transform="translate(148.7,254.18) scale(0.94,1)" font-size="12.3" text-anchor="end">100</text>
<line x1="149.6" y1="227.92" x2="154.1" y2="227.92" stroke="#222" stroke-width="1.2"/>
<text transform="translate(148.7,232.72) scale(0.94,1)" font-size="12.3" text-anchor="end">150</text>
<line x1="149.6" y1="206.46" x2="154.1" y2="206.46" stroke="#222" stroke-width="1.2"/>
<text transform="translate(148.7,211.26) scale(0.94,1)" font-size="12.3" text-anchor="end">200</text>
<line x1="149.6" y1="185" x2="154.1" y2="185" stroke="#222" stroke-width="1.2"/>
<text transform="translate(148.7,189.8) scale(0.94,1)" font-size="12.3" text-anchor="end">250</text>
<line x1="154.1" y1="292.3" x2="154.1" y2="296.8" stroke="#222" stroke-width="1.2"/>
<text transform="translate(154.3,309.7) scale(0.94,1)" font-size="12.3" text-anchor="middle">0</text>
<line x1="196.45" y1="292.3" x2="196.45" y2="296.8" stroke="#222" stroke-width="1.2"/>
<text transform="translate(196.65,309.7) scale(0.94,1)" font-size="12.3" text-anchor="middle">250</text>
<line x1="238.8" y1="292.3" x2="238.8" y2="296.8" stroke="#222" stroke-width="1.2"/>
<text transform="translate(239,309.7) scale(0.94,1)" font-size="12.3" text-anchor="middle">500</text>
<line x1="281.15" y1="292.3" x2="281.15" y2="296.8" stroke="#222" stroke-width="1.2"/>
<text transform="translate(281.35,309.7) scale(0.94,1)" font-size="12.3" text-anchor="middle">750</text>
<line x1="323.5" y1="292.3" x2="323.5" y2="296.8" stroke="#222" stroke-width="1.2"/>
<text transform="translate(323.7,309.7) scale(0.94,1)" font-size="12.3" text-anchor="middle">1000</text>
<line x1="154.1" y1="185" x2="323.5" y2="185" stroke="#555" stroke-width="1.6"/>
<line x1="323.7" y1="184.2" x2="323.7" y2="292.3" stroke="#222" stroke-width="1.6"/>
<line x1="154.1" y1="184.5" x2="154.1" y2="292.9" stroke="#333" stroke-width="1.9"/>
<line x1="153.5" y1="292.3" x2="324.2" y2="292.3" stroke="#111" stroke-width="1.4"/>
<text x="239.3" y="327.9" font-size="12" text-anchor="middle" textLength="86.5" lengthAdjust="spacingAndGlyphs">Temperature (K)</text>
<text transform="translate(122.7,236.25) rotate(-90)" font-size="12.3" text-anchor="middle" textLength="129.1" lengthAdjust="spacingAndGlyphs">Heat Capacity (cal/cell.K)</text>
<line x1="234" y1="246.2" x2="246.2" y2="246.2" stroke="#444" stroke-width="1.7"/>
<text x="252.3" y="250.2" font-size="10.5" textLength="58.8" lengthAdjust="spacingAndGlyphs">Doping (0%)</text>
<line x1="234" y1="258.3" x2="246.2" y2="258.3" stroke="#cc4c4c" stroke-width="1.7"/>
<text x="252.3" y="262.3" font-size="10.5" textLength="58.8" lengthAdjust="spacingAndGlyphs">Doping (6%)</text>
<line x1="234" y1="270.5" x2="246.2" y2="270.5" stroke="#3cd03c" stroke-width="1.7"/>
<text x="252.3" y="274.5" font-size="10.5" textLength="63.8" lengthAdjust="spacingAndGlyphs">Doping (11%)</text>
<line x1="234" y1="282.6" x2="246.2" y2="282.6" stroke="#2a2aa0" stroke-width="1.7"/>
<text x="252.3" y="286.6" font-size="10.5" textLength="64.8" lengthAdjust="spacingAndGlyphs">Doping (17%)</text>
<rect x="158.5" y="189" width="20.2" height="19" fill="#fff" stroke="#2a2a2a" stroke-width="1.5"/>
<text x="168.3" y="203.1" font-size="12.8" text-anchor="middle" textLength="16" lengthAdjust="spacingAndGlyphs">(d)</text>
<polyline points="398.1,289.62 482.8,247.84 567.5,206.06" fill="none" stroke="#151515" stroke-width="1.3" stroke-linejoin="round"/>
<polyline points="398.1,289.62 482.8,260.07 567.5,230.52" fill="none" stroke="#cc4c4c" stroke-width="1.3" stroke-linejoin="round"/>
<polyline points="398.1,289.62 482.8,261.97 567.5,234.33" fill="none" stroke="#3cd03c" stroke-width="1.3" stroke-linejoin="round"/>
<polyline points="398.1,289.62 482.8,264.99 567.5,240.37" fill="none" stroke="#2a2aa0" stroke-width="1.3" stroke-linejoin="round"/>
<line x1="393.6" y1="292.3" x2="398.1" y2="292.3" stroke="#222" stroke-width="1.2"/>
<text transform="translate(392.7,297.1) scale(0.94,1)" font-size="12.3" text-anchor="end">0</text>
<line x1="393.6" y1="265.48" x2="398.1" y2="265.48" stroke="#222" stroke-width="1.2"/>
<text transform="translate(392.7,270.28) scale(0.94,1)" font-size="12.3" text-anchor="end">1000</text>
<line x1="393.6" y1="238.65" x2="398.1" y2="238.65" stroke="#222" stroke-width="1.2"/>
<text transform="translate(392.7,243.45) scale(0.94,1)" font-size="12.3" text-anchor="end">2000</text>
<line x1="393.6" y1="211.82" x2="398.1" y2="211.82" stroke="#222" stroke-width="1.2"/>
<text transform="translate(392.7,216.62) scale(0.94,1)" font-size="12.3" text-anchor="end">3000</text>
<line x1="393.6" y1="185" x2="398.1" y2="185" stroke="#222" stroke-width="1.2"/>
<text transform="translate(392.7,189.8) scale(0.94,1)" font-size="12.3" text-anchor="end">4000</text>
<line x1="398.1" y1="292.3" x2="398.1" y2="296.8" stroke="#222" stroke-width="1.2"/>
<text transform="translate(398.3,309.7) scale(0.94,1)" font-size="12.3" text-anchor="middle">0</text>
<line x1="440.45" y1="292.3" x2="440.45" y2="296.8" stroke="#222" stroke-width="1.2"/>
<text transform="translate(440.65,309.7) scale(0.94,1)" font-size="12.3" text-anchor="middle">250</text>
<line x1="482.8" y1="292.3" x2="482.8" y2="296.8" stroke="#222" stroke-width="1.2"/>
<text transform="translate(483,309.7) scale(0.94,1)" font-size="12.3" text-anchor="middle">500</text>
<line x1="525.15" y1="292.3" x2="525.15" y2="296.8" stroke="#222" stroke-width="1.2"/>
<text transform="translate(525.35,309.7) scale(0.94,1)" font-size="12.3" text-anchor="middle">750</text>
<line x1="567.5" y1="292.3" x2="567.5" y2="296.8" stroke="#222" stroke-width="1.2"/>
<text transform="translate(567.7,309.7) scale(0.94,1)" font-size="12.3" text-anchor="middle">1000</text>
<line x1="398.1" y1="185" x2="567.5" y2="185" stroke="#555" stroke-width="1.6"/>
<line x1="567.7" y1="184.2" x2="567.7" y2="292.3" stroke="#222" stroke-width="1.6"/>
<line x1="398.1" y1="184.5" x2="398.1" y2="292.9" stroke="#555" stroke-width="1.9"/>
<line x1="397.5" y1="292.3" x2="568.2" y2="292.3" stroke="#111" stroke-width="1.4"/>
<text x="483.3" y="327.9" font-size="12" text-anchor="middle" textLength="86.5" lengthAdjust="spacingAndGlyphs">Temperature (K)</text>
<text transform="translate(360.6,236.3) rotate(-90)" font-size="12.3" text-anchor="middle" textLength="122.4" lengthAdjust="spacingAndGlyphs">Debye Temperature (K)</text>
<line x1="402.5" y1="193.5" x2="414.3" y2="193.5" stroke="#151515" stroke-width="1.3"/>
<text x="420.3" y="197.5" font-size="10.5" textLength="58.8" lengthAdjust="spacingAndGlyphs">Doping (0%)</text>
<line x1="402.5" y1="206.7" x2="414.3" y2="206.7" stroke="#cc4c4c" stroke-width="1.3"/>
<text x="420.3" y="210.7" font-size="10.5" textLength="58.8" lengthAdjust="spacingAndGlyphs">Doping (6%)</text>
<line x1="402.5" y1="219.5" x2="414.3" y2="219.5" stroke="#3cd03c" stroke-width="1.3"/>
<text x="420.3" y="223.5" font-size="10.5" textLength="63.8" lengthAdjust="spacingAndGlyphs">Doping (11%)</text>
<line x1="402.5" y1="232.4" x2="414.3" y2="232.4" stroke="#2a2aa0" stroke-width="1.3"/>
<text x="420.3" y="236.4" font-size="10.5" textLength="64.8" lengthAdjust="spacingAndGlyphs">Doping (17%)</text>
<rect x="543.3" y="269.5" width="20.3" height="18.8" fill="#fff" stroke="#2a2a2a" stroke-width="1.5"/>
<text x="553.15" y="283.5" font-size="12.8" text-anchor="middle" textLength="16" lengthAdjust="spacingAndGlyphs">(e)</text>
</svg>
</body></html>
